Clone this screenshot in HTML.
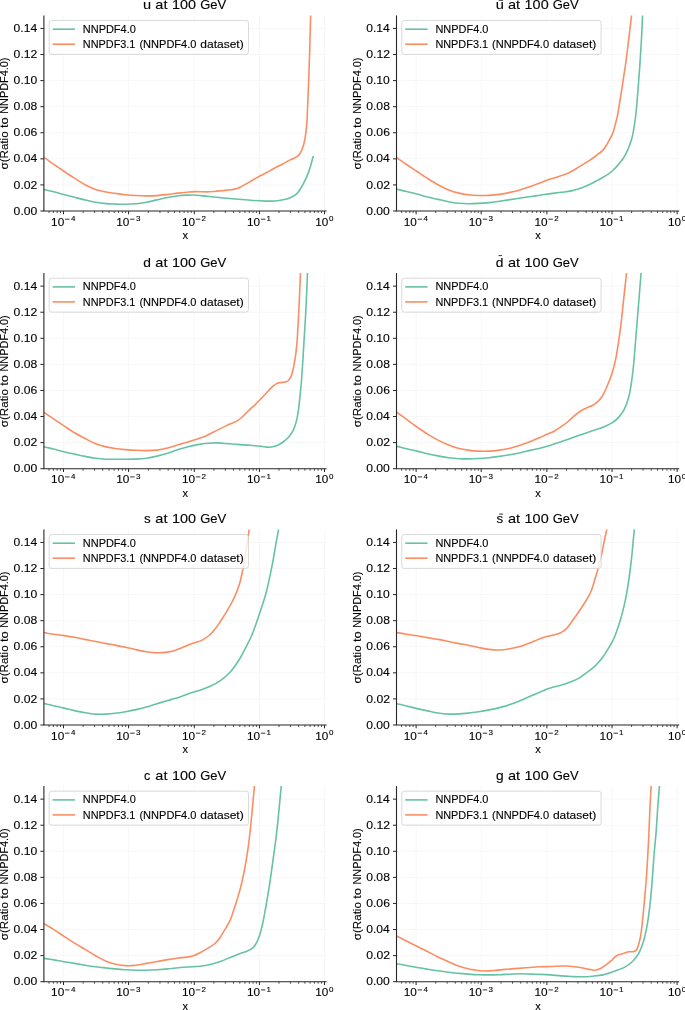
<!DOCTYPE html><html><head><meta charset="utf-8"><style>html,body{margin:0;padding:0;background:#fff;overflow:hidden}svg{display:block;will-change:transform;} text{stroke:#000;stroke-width:0.12px;paint-order:stroke} svg{font-family:"Liberation Sans",sans-serif;font-kerning:none}</style></head><body>
<svg width="685" height="1010" viewBox="0 0 685 1010">
<rect width="685" height="1010" fill="#fff"/>
<g transform="translate(0.00,0.00)">
<line x1="63.50" y1="15.40" x2="63.50" y2="211.00" stroke="#f7f7f7" stroke-width="1"/>
<line x1="128.60" y1="15.40" x2="128.60" y2="211.00" stroke="#f7f7f7" stroke-width="1"/>
<line x1="194.30" y1="15.40" x2="194.30" y2="211.00" stroke="#f7f7f7" stroke-width="1"/>
<line x1="259.40" y1="15.40" x2="259.40" y2="211.00" stroke="#f7f7f7" stroke-width="1"/>
<line x1="324.50" y1="15.40" x2="324.50" y2="211.00" stroke="#f7f7f7" stroke-width="1"/>
<line x1="43.90" y1="184.92" x2="326.60" y2="184.92" stroke="#f7f7f7" stroke-width="1"/>
<line x1="43.90" y1="158.84" x2="326.60" y2="158.84" stroke="#f7f7f7" stroke-width="1"/>
<line x1="43.90" y1="132.76" x2="326.60" y2="132.76" stroke="#f7f7f7" stroke-width="1"/>
<line x1="43.90" y1="106.68" x2="326.60" y2="106.68" stroke="#f7f7f7" stroke-width="1"/>
<line x1="43.90" y1="80.60" x2="326.60" y2="80.60" stroke="#f7f7f7" stroke-width="1"/>
<line x1="43.90" y1="54.52" x2="326.60" y2="54.52" stroke="#f7f7f7" stroke-width="1"/>
<line x1="43.90" y1="28.44" x2="326.60" y2="28.44" stroke="#f7f7f7" stroke-width="1"/>
</g>
<g transform="translate(352.60,0.00)">
<line x1="63.50" y1="15.40" x2="63.50" y2="211.00" stroke="#f7f7f7" stroke-width="1"/>
<line x1="128.60" y1="15.40" x2="128.60" y2="211.00" stroke="#f7f7f7" stroke-width="1"/>
<line x1="194.30" y1="15.40" x2="194.30" y2="211.00" stroke="#f7f7f7" stroke-width="1"/>
<line x1="259.40" y1="15.40" x2="259.40" y2="211.00" stroke="#f7f7f7" stroke-width="1"/>
<line x1="324.50" y1="15.40" x2="324.50" y2="211.00" stroke="#f7f7f7" stroke-width="1"/>
<line x1="43.90" y1="184.92" x2="326.60" y2="184.92" stroke="#f7f7f7" stroke-width="1"/>
<line x1="43.90" y1="158.84" x2="326.60" y2="158.84" stroke="#f7f7f7" stroke-width="1"/>
<line x1="43.90" y1="132.76" x2="326.60" y2="132.76" stroke="#f7f7f7" stroke-width="1"/>
<line x1="43.90" y1="106.68" x2="326.60" y2="106.68" stroke="#f7f7f7" stroke-width="1"/>
<line x1="43.90" y1="80.60" x2="326.60" y2="80.60" stroke="#f7f7f7" stroke-width="1"/>
<line x1="43.90" y1="54.52" x2="326.60" y2="54.52" stroke="#f7f7f7" stroke-width="1"/>
<line x1="43.90" y1="28.44" x2="326.60" y2="28.44" stroke="#f7f7f7" stroke-width="1"/>
</g>
<g transform="translate(0.00,257.70)">
<line x1="63.50" y1="15.40" x2="63.50" y2="211.00" stroke="#f7f7f7" stroke-width="1"/>
<line x1="128.60" y1="15.40" x2="128.60" y2="211.00" stroke="#f7f7f7" stroke-width="1"/>
<line x1="194.30" y1="15.40" x2="194.30" y2="211.00" stroke="#f7f7f7" stroke-width="1"/>
<line x1="259.40" y1="15.40" x2="259.40" y2="211.00" stroke="#f7f7f7" stroke-width="1"/>
<line x1="324.50" y1="15.40" x2="324.50" y2="211.00" stroke="#f7f7f7" stroke-width="1"/>
<line x1="43.90" y1="184.92" x2="326.60" y2="184.92" stroke="#f7f7f7" stroke-width="1"/>
<line x1="43.90" y1="158.84" x2="326.60" y2="158.84" stroke="#f7f7f7" stroke-width="1"/>
<line x1="43.90" y1="132.76" x2="326.60" y2="132.76" stroke="#f7f7f7" stroke-width="1"/>
<line x1="43.90" y1="106.68" x2="326.60" y2="106.68" stroke="#f7f7f7" stroke-width="1"/>
<line x1="43.90" y1="80.60" x2="326.60" y2="80.60" stroke="#f7f7f7" stroke-width="1"/>
<line x1="43.90" y1="54.52" x2="326.60" y2="54.52" stroke="#f7f7f7" stroke-width="1"/>
<line x1="43.90" y1="28.44" x2="326.60" y2="28.44" stroke="#f7f7f7" stroke-width="1"/>
</g>
<g transform="translate(352.60,257.70)">
<line x1="63.50" y1="15.40" x2="63.50" y2="211.00" stroke="#f7f7f7" stroke-width="1"/>
<line x1="128.60" y1="15.40" x2="128.60" y2="211.00" stroke="#f7f7f7" stroke-width="1"/>
<line x1="194.30" y1="15.40" x2="194.30" y2="211.00" stroke="#f7f7f7" stroke-width="1"/>
<line x1="259.40" y1="15.40" x2="259.40" y2="211.00" stroke="#f7f7f7" stroke-width="1"/>
<line x1="324.50" y1="15.40" x2="324.50" y2="211.00" stroke="#f7f7f7" stroke-width="1"/>
<line x1="43.90" y1="184.92" x2="326.60" y2="184.92" stroke="#f7f7f7" stroke-width="1"/>
<line x1="43.90" y1="158.84" x2="326.60" y2="158.84" stroke="#f7f7f7" stroke-width="1"/>
<line x1="43.90" y1="132.76" x2="326.60" y2="132.76" stroke="#f7f7f7" stroke-width="1"/>
<line x1="43.90" y1="106.68" x2="326.60" y2="106.68" stroke="#f7f7f7" stroke-width="1"/>
<line x1="43.90" y1="80.60" x2="326.60" y2="80.60" stroke="#f7f7f7" stroke-width="1"/>
<line x1="43.90" y1="54.52" x2="326.60" y2="54.52" stroke="#f7f7f7" stroke-width="1"/>
<line x1="43.90" y1="28.44" x2="326.60" y2="28.44" stroke="#f7f7f7" stroke-width="1"/>
</g>
<g transform="translate(0.00,514.00)">
<line x1="63.50" y1="15.40" x2="63.50" y2="211.00" stroke="#f7f7f7" stroke-width="1"/>
<line x1="128.60" y1="15.40" x2="128.60" y2="211.00" stroke="#f7f7f7" stroke-width="1"/>
<line x1="194.30" y1="15.40" x2="194.30" y2="211.00" stroke="#f7f7f7" stroke-width="1"/>
<line x1="259.40" y1="15.40" x2="259.40" y2="211.00" stroke="#f7f7f7" stroke-width="1"/>
<line x1="324.50" y1="15.40" x2="324.50" y2="211.00" stroke="#f7f7f7" stroke-width="1"/>
<line x1="43.90" y1="184.92" x2="326.60" y2="184.92" stroke="#f7f7f7" stroke-width="1"/>
<line x1="43.90" y1="158.84" x2="326.60" y2="158.84" stroke="#f7f7f7" stroke-width="1"/>
<line x1="43.90" y1="132.76" x2="326.60" y2="132.76" stroke="#f7f7f7" stroke-width="1"/>
<line x1="43.90" y1="106.68" x2="326.60" y2="106.68" stroke="#f7f7f7" stroke-width="1"/>
<line x1="43.90" y1="80.60" x2="326.60" y2="80.60" stroke="#f7f7f7" stroke-width="1"/>
<line x1="43.90" y1="54.52" x2="326.60" y2="54.52" stroke="#f7f7f7" stroke-width="1"/>
<line x1="43.90" y1="28.44" x2="326.60" y2="28.44" stroke="#f7f7f7" stroke-width="1"/>
</g>
<g transform="translate(352.60,514.00)">
<line x1="63.50" y1="15.40" x2="63.50" y2="211.00" stroke="#f7f7f7" stroke-width="1"/>
<line x1="128.60" y1="15.40" x2="128.60" y2="211.00" stroke="#f7f7f7" stroke-width="1"/>
<line x1="194.30" y1="15.40" x2="194.30" y2="211.00" stroke="#f7f7f7" stroke-width="1"/>
<line x1="259.40" y1="15.40" x2="259.40" y2="211.00" stroke="#f7f7f7" stroke-width="1"/>
<line x1="324.50" y1="15.40" x2="324.50" y2="211.00" stroke="#f7f7f7" stroke-width="1"/>
<line x1="43.90" y1="184.92" x2="326.60" y2="184.92" stroke="#f7f7f7" stroke-width="1"/>
<line x1="43.90" y1="158.84" x2="326.60" y2="158.84" stroke="#f7f7f7" stroke-width="1"/>
<line x1="43.90" y1="132.76" x2="326.60" y2="132.76" stroke="#f7f7f7" stroke-width="1"/>
<line x1="43.90" y1="106.68" x2="326.60" y2="106.68" stroke="#f7f7f7" stroke-width="1"/>
<line x1="43.90" y1="80.60" x2="326.60" y2="80.60" stroke="#f7f7f7" stroke-width="1"/>
<line x1="43.90" y1="54.52" x2="326.60" y2="54.52" stroke="#f7f7f7" stroke-width="1"/>
<line x1="43.90" y1="28.44" x2="326.60" y2="28.44" stroke="#f7f7f7" stroke-width="1"/>
</g>
<g transform="translate(0.00,770.70)">
<line x1="63.50" y1="15.40" x2="63.50" y2="211.00" stroke="#f7f7f7" stroke-width="1"/>
<line x1="128.60" y1="15.40" x2="128.60" y2="211.00" stroke="#f7f7f7" stroke-width="1"/>
<line x1="194.30" y1="15.40" x2="194.30" y2="211.00" stroke="#f7f7f7" stroke-width="1"/>
<line x1="259.40" y1="15.40" x2="259.40" y2="211.00" stroke="#f7f7f7" stroke-width="1"/>
<line x1="324.50" y1="15.40" x2="324.50" y2="211.00" stroke="#f7f7f7" stroke-width="1"/>
<line x1="43.90" y1="184.92" x2="326.60" y2="184.92" stroke="#f7f7f7" stroke-width="1"/>
<line x1="43.90" y1="158.84" x2="326.60" y2="158.84" stroke="#f7f7f7" stroke-width="1"/>
<line x1="43.90" y1="132.76" x2="326.60" y2="132.76" stroke="#f7f7f7" stroke-width="1"/>
<line x1="43.90" y1="106.68" x2="326.60" y2="106.68" stroke="#f7f7f7" stroke-width="1"/>
<line x1="43.90" y1="80.60" x2="326.60" y2="80.60" stroke="#f7f7f7" stroke-width="1"/>
<line x1="43.90" y1="54.52" x2="326.60" y2="54.52" stroke="#f7f7f7" stroke-width="1"/>
<line x1="43.90" y1="28.44" x2="326.60" y2="28.44" stroke="#f7f7f7" stroke-width="1"/>
</g>
<g transform="translate(352.60,770.70)">
<line x1="63.50" y1="15.40" x2="63.50" y2="211.00" stroke="#f7f7f7" stroke-width="1"/>
<line x1="128.60" y1="15.40" x2="128.60" y2="211.00" stroke="#f7f7f7" stroke-width="1"/>
<line x1="194.30" y1="15.40" x2="194.30" y2="211.00" stroke="#f7f7f7" stroke-width="1"/>
<line x1="259.40" y1="15.40" x2="259.40" y2="211.00" stroke="#f7f7f7" stroke-width="1"/>
<line x1="324.50" y1="15.40" x2="324.50" y2="211.00" stroke="#f7f7f7" stroke-width="1"/>
<line x1="43.90" y1="184.92" x2="326.60" y2="184.92" stroke="#f7f7f7" stroke-width="1"/>
<line x1="43.90" y1="158.84" x2="326.60" y2="158.84" stroke="#f7f7f7" stroke-width="1"/>
<line x1="43.90" y1="132.76" x2="326.60" y2="132.76" stroke="#f7f7f7" stroke-width="1"/>
<line x1="43.90" y1="106.68" x2="326.60" y2="106.68" stroke="#f7f7f7" stroke-width="1"/>
<line x1="43.90" y1="80.60" x2="326.60" y2="80.60" stroke="#f7f7f7" stroke-width="1"/>
<line x1="43.90" y1="54.52" x2="326.60" y2="54.52" stroke="#f7f7f7" stroke-width="1"/>
<line x1="43.90" y1="28.44" x2="326.60" y2="28.44" stroke="#f7f7f7" stroke-width="1"/>
</g>
<clipPath id="clip00"><rect x="43.90" y="15.40" width="282.70" height="195.60"/></clipPath>
<g clip-path="url(#clip00)" fill="none" stroke-width="1.6" stroke-linejoin="round" stroke-linecap="butt">
<path d="M43.90,189.60 C44.02,189.62 44.24,189.63 44.60,189.70 C45.90,189.95 50.45,191.03 53.50,191.80 C56.74,192.62 60.08,193.60 63.50,194.50 C67.08,195.44 70.87,196.39 74.50,197.30 C78.04,198.19 81.49,199.08 85.00,199.90 C88.52,200.72 92.06,201.58 95.60,202.20 C99.10,202.81 102.74,203.28 106.10,203.60 C109.18,203.89 111.91,203.98 115.00,204.10 C118.35,204.23 122.00,204.35 125.50,204.30 C129.00,204.25 132.51,204.15 136.00,203.80 C139.51,203.45 143.01,202.85 146.50,202.20 C150.01,201.55 153.49,200.68 157.00,199.90 C160.53,199.11 164.07,198.20 167.60,197.50 C171.10,196.80 174.73,196.10 178.10,195.70 C181.18,195.33 184.30,195.21 187.00,195.10 C189.25,195.01 191.02,194.93 193.20,195.00 C195.65,195.07 198.37,195.35 201.00,195.60 C203.70,195.85 206.07,196.17 209.20,196.50 C213.37,196.94 218.93,197.53 223.80,198.00 C228.67,198.47 233.53,198.88 238.40,199.30 C243.27,199.72 248.34,200.19 253.00,200.50 C257.27,200.78 261.46,201.03 265.30,201.10 C268.67,201.16 271.75,201.24 274.80,201.00 C277.67,200.78 280.51,200.36 283.10,199.80 C285.44,199.30 287.66,198.71 289.70,197.90 C291.60,197.15 293.51,196.28 295.00,195.20 C296.32,194.24 297.32,193.10 298.30,191.90 C299.28,190.70 300.06,189.37 300.90,188.00 C301.79,186.55 302.66,185.00 303.50,183.40 C304.39,181.71 305.25,179.97 306.10,178.10 C307.02,176.06 308.06,173.59 308.80,171.60 C309.41,169.95 309.81,168.67 310.30,167.00 C310.88,165.05 311.44,162.54 312.00,160.60 C312.47,158.96 313.17,156.85 313.40,156.10" stroke="#66c2a5"/>
<path d="M43.90,157.60 C44.02,157.65 44.25,157.70 44.60,157.90 C45.92,158.64 50.44,162.07 53.50,164.20 C56.73,166.44 60.08,168.72 63.50,171.00 C67.07,173.38 70.86,175.88 74.50,178.20 C78.03,180.45 81.43,182.81 85.00,184.70 C88.46,186.53 92.02,188.17 95.60,189.40 C99.06,190.58 102.73,191.34 106.10,192.00 C109.17,192.60 111.91,192.87 115.00,193.30 C118.35,193.77 121.99,194.33 125.50,194.70 C128.99,195.07 132.50,195.30 136.00,195.50 C139.50,195.70 143.00,195.88 146.50,195.90 C150.00,195.92 153.50,195.83 157.00,195.60 C160.53,195.37 164.08,194.92 167.60,194.50 C171.11,194.08 174.74,193.49 178.10,193.10 C181.19,192.74 184.15,192.46 187.00,192.20 C189.63,191.96 191.65,191.70 194.60,191.60 C198.68,191.47 204.34,191.98 209.20,191.80 C214.07,191.62 219.77,190.90 223.80,190.50 C226.65,190.22 228.98,190.01 231.10,189.70 C232.76,189.46 234.18,189.22 235.50,188.90 C236.60,188.64 237.53,188.38 238.50,188.00 C239.47,187.62 240.12,187.23 241.30,186.60 C243.43,185.47 247.06,183.33 250.10,181.60 C253.37,179.74 256.91,177.65 260.30,175.80 C263.61,173.99 267.27,172.19 270.20,170.60 C272.58,169.31 274.45,168.15 276.60,167.00 C278.75,165.85 280.93,164.84 283.10,163.70 C285.30,162.54 287.75,161.04 289.70,160.10 C291.18,159.38 292.40,159.06 293.70,158.40 C295.03,157.73 296.49,157.01 297.60,156.10 C298.63,155.26 299.46,154.32 300.20,153.20 C301.02,151.96 301.60,150.37 302.20,148.90 C302.80,147.41 303.36,145.85 303.80,144.30 C304.23,142.78 304.49,141.38 304.80,139.70 C305.17,137.70 305.52,135.29 305.80,133.10 C306.08,130.93 306.29,128.85 306.50,126.60 C306.73,124.17 306.93,121.84 307.10,119.00 C307.32,115.37 307.40,111.62 307.60,106.60 C307.91,98.83 308.43,86.81 308.80,76.90 C309.17,66.98 309.50,57.20 309.80,47.10 C310.11,36.65 310.39,22.88 310.60,15.20 C310.72,10.86 310.85,6.70 310.90,5.00" stroke="#fc8d62"/>
</g>
<clipPath id="clip10"><rect x="396.50" y="15.40" width="282.70" height="195.60"/></clipPath>
<g clip-path="url(#clip10)" fill="none" stroke-width="1.6" stroke-linejoin="round" stroke-linecap="butt">
<path d="M396.50,189.30 C396.60,189.32 396.78,189.34 397.10,189.40 C398.37,189.65 403.28,190.74 406.50,191.50 C409.91,192.30 413.51,193.19 417.00,194.10 C420.51,195.02 423.99,196.11 427.50,197.00 C430.99,197.88 434.49,198.62 438.00,199.40 C441.52,200.18 445.06,201.06 448.60,201.70 C452.10,202.33 455.74,202.87 459.10,203.20 C462.18,203.51 464.91,203.66 468.00,203.70 C471.35,203.75 475.00,203.58 478.50,203.40 C482.00,203.22 485.51,202.97 489.00,202.60 C492.51,202.23 496.00,201.70 499.50,201.20 C503.00,200.70 506.49,200.13 510.00,199.60 C513.52,199.07 517.07,198.52 520.60,198.00 C524.11,197.48 527.74,196.98 531.10,196.50 C534.19,196.05 536.91,195.66 540.00,195.20 C543.36,194.70 547.00,194.08 550.50,193.60 C554.00,193.12 557.50,192.75 561.00,192.30 C564.50,191.85 568.03,191.64 571.50,190.90 C575.03,190.15 578.77,188.98 582.00,187.80 C584.88,186.75 587.37,185.57 590.00,184.30 C592.67,183.01 595.27,181.53 597.90,180.10 C600.54,178.66 603.35,177.27 605.80,175.70 C608.10,174.23 610.21,172.72 612.20,171.00 C614.18,169.29 615.91,167.43 617.70,165.40 C619.62,163.22 621.69,160.74 623.30,158.30 C624.83,155.99 626.07,153.60 627.20,151.20 C628.30,148.87 629.16,146.48 630.00,144.10 C630.83,141.75 631.53,139.72 632.20,137.00 C633.08,133.44 633.84,128.76 634.50,124.50 C635.18,120.10 635.68,115.96 636.20,111.00 C636.84,104.95 637.34,97.67 637.90,90.80 C638.48,83.65 639.07,76.46 639.60,68.90 C640.17,60.80 640.71,52.37 641.20,43.70 C641.72,34.47 642.21,22.21 642.60,15.10 C642.83,10.88 643.10,6.68 643.20,5.00" stroke="#66c2a5"/>
<path d="M396.50,157.50 C396.60,157.57 396.78,157.68 397.10,157.90 C398.37,158.77 403.27,162.29 406.50,164.50 C409.89,166.82 413.50,169.18 417.00,171.50 C420.50,173.81 423.98,176.19 427.50,178.40 C430.98,180.58 434.45,182.77 438.00,184.70 C441.49,186.60 445.02,188.49 448.60,189.90 C452.05,191.26 455.72,192.28 459.10,193.10 C462.17,193.84 464.90,194.30 468.00,194.70 C471.35,195.13 475.00,195.38 478.50,195.50 C482.00,195.62 485.50,195.58 489.00,195.40 C492.50,195.22 496.01,194.90 499.50,194.40 C503.01,193.90 506.50,193.18 510.00,192.40 C513.54,191.61 517.09,190.71 520.60,189.70 C524.12,188.68 527.76,187.48 531.10,186.30 C534.20,185.21 536.91,184.05 540.00,182.90 C543.35,181.65 546.99,180.30 550.50,179.10 C553.99,177.90 557.95,176.70 561.00,175.70 C563.37,174.92 565.04,174.60 567.30,173.60 C570.20,172.32 573.87,170.01 576.80,168.30 C579.38,166.79 581.71,165.32 584.00,163.90 C586.10,162.60 588.00,161.46 590.00,160.10 C592.10,158.67 594.21,157.10 596.30,155.50 C598.44,153.87 600.93,152.27 602.70,150.40 C604.30,148.70 605.34,146.89 606.60,144.90 C607.99,142.70 609.43,140.05 610.60,137.70 C611.67,135.55 612.62,133.59 613.40,131.40 C614.20,129.13 614.67,126.74 615.30,124.30 C615.97,121.72 616.72,119.00 617.30,116.30 C617.89,113.57 618.27,111.12 618.80,108.00 C619.48,103.98 620.24,99.03 621.00,94.20 C621.84,88.85 622.75,82.93 623.60,77.30 C624.45,71.69 625.30,66.36 626.10,60.50 C626.97,54.08 627.74,47.41 628.60,40.30 C629.56,32.37 630.83,21.61 631.60,15.10 C632.09,10.98 632.60,6.68 632.80,5.00" stroke="#fc8d62"/>
</g>
<clipPath id="clip01"><rect x="43.90" y="273.10" width="282.70" height="195.60"/></clipPath>
<g clip-path="url(#clip01)" fill="none" stroke-width="1.6" stroke-linejoin="round" stroke-linecap="butt">
<path d="M43.90,446.60 C43.93,446.62 43.98,446.66 44.10,446.70 C44.89,446.99 50.28,448.19 53.50,449.00 C56.91,449.85 60.49,450.85 64.00,451.70 C67.49,452.55 71.00,453.32 74.50,454.10 C78.00,454.88 81.48,455.70 85.00,456.40 C88.52,457.10 92.06,457.83 95.60,458.30 C99.10,458.76 102.74,459.04 106.10,459.20 C109.19,459.35 111.91,459.28 115.00,459.30 C118.36,459.32 122.00,459.33 125.50,459.30 C129.00,459.27 132.50,459.28 136.00,459.10 C139.50,458.92 143.01,458.70 146.50,458.20 C150.01,457.70 153.51,456.93 157.00,456.10 C160.54,455.26 164.09,454.28 167.60,453.20 C171.13,452.11 174.73,450.67 178.10,449.60 C181.18,448.62 183.90,447.81 187.00,447.00 C190.34,446.13 193.99,445.23 197.50,444.60 C200.99,443.97 204.49,443.48 208.00,443.20 C211.49,442.92 215.00,442.80 218.50,442.90 C222.00,443.00 225.49,443.52 229.00,443.80 C232.52,444.08 236.07,444.35 239.60,444.60 C243.11,444.85 247.26,445.06 250.10,445.30 C252.04,445.46 253.25,445.64 255.00,445.80 C257.01,445.98 259.26,446.08 261.50,446.30 C263.91,446.54 266.50,447.28 269.00,447.20 C271.53,447.12 274.24,446.68 276.60,445.80 C278.93,444.93 281.10,443.45 283.10,442.00 C285.06,440.58 286.89,438.99 288.50,437.20 C290.13,435.39 291.59,433.47 292.80,431.20 C294.15,428.67 295.12,425.67 296.00,422.60 C296.96,419.24 297.59,415.65 298.20,411.80 C298.89,407.45 299.33,402.17 299.80,397.80 C300.21,393.97 300.55,390.77 300.90,387.00 C301.29,382.87 301.62,379.27 302.00,374.00 C302.59,365.86 303.29,352.80 303.90,342.90 C304.46,333.85 305.05,325.07 305.50,316.90 C305.90,309.61 306.18,303.31 306.50,296.20 C306.84,288.64 307.22,279.11 307.50,272.80 C307.69,268.51 307.92,263.80 308.00,262.00" stroke="#66c2a5"/>
<path d="M43.90,412.10 C43.93,412.13 43.98,412.20 44.10,412.30 C44.89,412.96 50.27,416.59 53.50,418.80 C56.90,421.12 60.49,423.56 64.00,425.90 C67.49,428.23 70.95,430.68 74.50,432.80 C77.96,434.87 81.48,436.66 85.00,438.50 C88.51,440.33 92.01,442.39 95.60,443.80 C99.05,445.16 102.72,446.10 106.10,446.90 C109.17,447.63 111.90,448.06 115.00,448.50 C118.35,448.98 122.00,449.30 125.50,449.60 C129.00,449.90 132.50,450.13 136.00,450.30 C139.50,450.47 143.00,450.63 146.50,450.60 C150.00,450.57 153.51,450.53 157.00,450.10 C160.54,449.67 164.10,448.88 167.60,448.00 C171.13,447.11 174.74,445.80 178.10,444.80 C181.19,443.88 183.91,443.12 187.00,442.20 C190.36,441.20 194.21,440.11 197.50,439.00 C200.47,438.00 202.98,437.17 205.90,435.90 C209.24,434.44 212.90,432.35 216.40,430.60 C219.90,428.85 223.38,427.07 226.90,425.40 C230.41,423.74 234.83,422.17 237.50,420.60 C239.29,419.55 240.12,418.86 241.70,417.50 C244.09,415.45 247.64,411.40 250.10,409.10 C251.92,407.39 253.28,406.41 255.00,404.80 C257.04,402.89 259.35,400.53 261.50,398.30 C263.69,396.03 265.93,393.47 268.00,391.30 C269.84,389.37 271.42,387.37 273.30,385.90 C275.01,384.56 276.74,383.34 278.70,382.70 C280.70,382.05 283.43,382.59 285.20,382.10 C286.52,381.73 287.57,381.35 288.50,380.50 C289.59,379.50 290.39,377.76 291.10,376.20 C291.85,374.54 292.31,372.70 292.80,370.80 C293.33,368.75 293.67,366.64 294.10,364.30 C294.60,361.57 295.15,358.74 295.60,355.40 C296.18,351.14 296.66,346.27 297.10,340.80 C297.66,333.82 298.09,324.58 298.50,316.90 C298.88,309.75 299.18,303.31 299.50,296.20 C299.84,288.64 300.22,279.11 300.50,272.80 C300.69,268.51 300.92,263.80 301.00,262.00" stroke="#fc8d62"/>
</g>
<clipPath id="clip11"><rect x="396.50" y="273.10" width="282.70" height="195.60"/></clipPath>
<g clip-path="url(#clip11)" fill="none" stroke-width="1.6" stroke-linejoin="round" stroke-linecap="butt">
<path d="M396.50,446.30 C396.60,446.32 396.78,446.33 397.10,446.40 C398.37,446.66 403.28,447.94 406.50,448.70 C409.90,449.50 413.51,450.25 417.00,451.10 C420.51,451.95 423.99,453.00 427.50,453.80 C430.99,454.60 434.49,455.25 438.00,455.90 C441.52,456.55 445.07,457.23 448.60,457.70 C452.10,458.16 455.74,458.50 459.10,458.70 C462.19,458.88 464.91,458.92 468.00,458.90 C471.36,458.87 475.00,458.70 478.50,458.50 C482.00,458.30 485.50,458.05 489.00,457.70 C492.50,457.35 496.00,456.88 499.50,456.40 C503.00,455.92 506.50,455.41 510.00,454.80 C513.53,454.18 517.08,453.48 520.60,452.70 C524.12,451.92 527.74,450.87 531.10,450.10 C534.18,449.39 536.90,448.96 540.00,448.20 C543.44,447.36 547.22,446.31 550.80,445.20 C554.42,444.08 558.00,442.75 561.60,441.50 C565.20,440.25 568.80,438.97 572.40,437.70 C576.00,436.43 579.59,435.13 583.20,433.90 C586.79,432.67 590.50,431.48 594.00,430.30 C597.32,429.18 600.61,428.29 603.70,427.00 C606.70,425.75 609.68,424.45 612.30,422.70 C614.87,420.98 617.27,418.91 619.30,416.60 C621.34,414.28 623.00,411.79 624.50,408.80 C626.25,405.30 627.66,400.92 628.80,396.70 C629.99,392.27 630.65,387.70 631.40,382.80 C632.24,377.36 632.87,371.65 633.50,365.50 C634.22,358.50 634.79,350.35 635.40,343.00 C635.99,335.93 636.51,329.52 637.10,322.20 C637.76,314.02 638.52,304.64 639.20,296.20 C639.85,288.19 640.58,279.11 641.10,272.80 C641.45,268.51 641.85,263.80 642.00,262.00" stroke="#66c2a5"/>
<path d="M396.50,412.10 C396.60,412.17 396.78,412.28 397.10,412.50 C398.37,413.39 403.28,417.05 406.50,419.40 C409.90,421.88 413.48,424.54 417.00,427.00 C420.48,429.44 423.96,431.89 427.50,434.10 C430.96,436.25 434.45,438.27 438.00,440.10 C441.49,441.90 445.04,443.59 448.60,445.00 C452.07,446.38 455.71,447.64 459.10,448.50 C462.16,449.28 464.90,449.67 468.00,450.10 C471.35,450.56 475.00,450.93 478.50,451.10 C482.00,451.27 485.50,451.27 489.00,451.10 C492.50,450.93 496.01,450.58 499.50,450.10 C503.01,449.62 506.52,449.04 510.00,448.20 C513.55,447.35 517.09,446.16 520.60,445.00 C524.12,443.83 527.76,442.48 531.10,441.20 C534.20,440.01 537.28,438.80 540.00,437.60 C542.35,436.56 544.25,435.53 546.50,434.50 C548.90,433.40 551.54,432.51 554.00,431.20 C556.58,429.83 559.20,428.06 561.60,426.40 C563.89,424.82 565.98,423.27 568.10,421.50 C570.29,419.67 572.31,417.43 574.50,415.60 C576.62,413.83 578.77,412.07 581.00,410.70 C583.11,409.40 585.42,408.44 587.50,407.50 C589.37,406.66 591.26,406.23 592.90,405.30 C594.48,404.41 595.80,403.39 597.20,402.10 C598.81,400.60 600.42,398.90 601.90,396.70 C603.78,393.89 605.46,390.06 607.10,386.30 C608.95,382.07 610.84,377.15 612.30,372.50 C613.74,367.92 614.80,363.39 615.80,358.60 C616.85,353.57 617.57,348.47 618.40,343.00 C619.31,336.96 620.18,330.65 621.00,323.90 C621.92,316.32 622.69,307.98 623.60,299.70 C624.56,290.97 625.83,279.76 626.60,272.80 C627.09,268.39 627.60,263.80 627.80,262.00" stroke="#fc8d62"/>
</g>
<clipPath id="clip02"><rect x="43.90" y="529.40" width="282.70" height="195.60"/></clipPath>
<g clip-path="url(#clip02)" fill="none" stroke-width="1.6" stroke-linejoin="round" stroke-linecap="butt">
<path d="M43.90,703.50 C43.93,703.52 43.98,703.56 44.10,703.60 C44.89,703.88 50.28,704.97 53.50,705.70 C56.90,706.47 60.50,707.28 64.00,708.10 C67.50,708.92 70.99,709.83 74.50,710.60 C77.99,711.36 81.48,712.12 85.00,712.70 C88.52,713.28 92.07,713.87 95.60,714.10 C99.10,714.33 102.75,714.25 106.10,714.10 C109.19,713.96 111.92,713.67 115.00,713.30 C118.36,712.89 122.01,712.32 125.50,711.70 C129.01,711.08 132.51,710.40 136.00,709.60 C139.51,708.80 143.01,707.88 146.50,706.90 C150.01,705.91 153.49,704.75 157.00,703.70 C160.52,702.65 164.43,701.52 167.60,700.60 C170.17,699.86 171.86,699.46 174.60,698.60 C178.60,697.35 184.69,695.08 189.20,693.60 C193.06,692.33 196.47,691.45 200.00,690.20 C203.47,688.98 206.85,687.77 210.20,686.20 C213.65,684.58 217.12,682.91 220.40,680.60 C223.97,678.09 227.64,674.88 230.70,671.50 C233.77,668.11 236.38,664.12 238.80,660.30 C241.13,656.61 242.98,652.86 245.00,649.00 C247.08,645.03 249.25,641.00 251.10,636.80 C252.99,632.51 254.64,627.86 256.20,623.50 C257.69,619.34 259.09,614.84 260.30,611.20 C261.26,608.31 262.05,606.05 262.90,603.40 C263.78,600.66 264.58,598.37 265.50,595.00 C266.86,590.02 268.58,582.41 269.90,576.30 C271.16,570.48 272.27,564.81 273.30,559.20 C274.29,553.79 275.10,548.31 276.00,543.20 C276.83,538.48 277.86,533.75 278.50,529.60 C279.04,526.13 279.50,521.60 279.70,520.00" stroke="#66c2a5"/>
<path d="M43.90,632.30 C43.93,632.32 43.98,632.36 44.10,632.40 C44.89,632.67 50.27,633.68 53.50,634.20 C56.90,634.75 60.50,635.08 64.00,635.60 C67.50,636.12 71.01,636.67 74.50,637.30 C78.01,637.93 81.49,638.70 85.00,639.40 C88.52,640.10 92.08,640.80 95.60,641.50 C99.11,642.20 102.74,642.98 106.10,643.60 C109.18,644.17 111.92,644.52 115.00,645.10 C118.36,645.74 122.00,646.53 125.50,647.30 C129.00,648.07 132.49,648.97 136.00,649.70 C139.49,650.43 142.99,651.18 146.50,651.70 C149.99,652.21 153.49,652.73 157.00,652.80 C160.52,652.87 164.52,652.51 167.60,652.10 C170.01,651.78 171.78,651.45 174.00,650.80 C176.53,650.05 179.10,648.81 181.90,647.70 C185.09,646.43 188.68,644.87 192.10,643.60 C195.48,642.34 199.28,641.64 202.30,640.10 C205.05,638.70 207.39,636.94 209.60,635.00 C211.79,633.07 213.64,630.85 215.50,628.50 C217.45,626.03 219.10,623.40 221.00,620.50 C223.18,617.17 225.61,613.40 227.80,609.60 C230.11,605.59 232.55,601.27 234.50,597.00 C236.40,592.83 238.00,588.92 239.40,584.30 C241.00,579.01 242.17,572.72 243.30,566.90 C244.43,561.09 245.26,555.39 246.20,549.40 C247.19,543.10 248.32,535.41 249.10,530.00 C249.66,526.12 250.27,521.67 250.50,520.00" stroke="#fc8d62"/>
</g>
<clipPath id="clip12"><rect x="396.50" y="529.40" width="282.70" height="195.60"/></clipPath>
<g clip-path="url(#clip12)" fill="none" stroke-width="1.6" stroke-linejoin="round" stroke-linecap="butt">
<path d="M396.50,703.70 C396.60,703.72 396.78,703.74 397.10,703.80 C398.37,704.05 403.28,705.23 406.50,706.00 C409.91,706.82 413.49,707.78 417.00,708.60 C420.49,709.42 424.00,710.17 427.50,710.90 C431.00,711.63 434.48,712.47 438.00,713.00 C441.51,713.53 445.07,713.95 448.60,714.10 C452.10,714.25 455.75,714.08 459.10,713.90 C462.19,713.73 464.91,713.44 468.00,713.10 C471.36,712.73 475.00,712.23 478.50,711.70 C482.00,711.17 485.51,710.58 489.00,709.90 C492.51,709.22 496.01,708.48 499.50,707.60 C503.01,706.71 506.52,705.77 510.00,704.60 C513.55,703.41 517.19,701.92 520.60,700.50 C523.85,699.15 526.80,697.71 530.00,696.30 C533.33,694.84 536.79,693.29 540.20,691.90 C543.59,690.52 546.96,689.10 550.40,688.00 C553.80,686.91 557.30,686.34 560.70,685.30 C564.13,684.25 567.72,682.97 570.90,681.70 C573.78,680.55 576.56,679.48 579.00,678.10 C581.22,676.85 583.16,675.21 585.00,673.90 C586.59,672.77 587.95,671.81 589.40,670.70 C590.88,669.57 592.38,668.48 593.80,667.20 C595.28,665.86 596.69,664.37 598.10,662.80 C599.59,661.14 601.16,659.29 602.50,657.50 C603.78,655.79 604.85,654.09 606.00,652.30 C607.19,650.46 608.35,648.56 609.50,646.60 C610.69,644.57 611.89,642.60 613.00,640.30 C614.27,637.67 615.43,634.81 616.60,631.60 C618.00,627.77 619.47,623.03 620.70,618.80 C621.89,614.70 622.95,610.60 623.90,606.60 C624.81,602.77 625.57,599.12 626.30,595.30 C627.04,591.39 627.71,587.27 628.30,583.40 C628.87,579.72 629.31,576.29 629.80,572.60 C630.31,568.73 630.84,564.75 631.30,560.70 C631.78,556.49 632.20,551.92 632.60,547.80 C632.96,544.01 633.29,540.18 633.60,536.90 C633.85,534.20 634.08,532.12 634.30,529.50 C634.55,526.53 634.88,521.58 635.00,520.00" stroke="#66c2a5"/>
<path d="M396.50,632.50 C396.60,632.52 396.78,632.55 397.10,632.60 C398.36,632.81 403.28,633.68 406.50,634.20 C409.90,634.75 413.50,635.23 417.00,635.80 C420.50,636.37 424.00,637.00 427.50,637.60 C431.00,638.20 434.50,638.75 438.00,639.40 C441.53,640.05 445.08,640.80 448.60,641.50 C452.11,642.20 455.74,642.96 459.10,643.60 C462.19,644.19 464.92,644.59 468.00,645.20 C471.36,645.87 474.99,646.80 478.50,647.50 C481.99,648.20 485.49,648.98 489.00,649.40 C492.49,649.81 496.01,650.12 499.50,650.00 C503.01,649.88 506.51,649.31 510.00,648.70 C513.54,648.08 517.41,647.24 520.60,646.30 C523.32,645.50 525.57,644.53 528.00,643.60 C530.37,642.69 532.53,641.78 535.00,640.80 C537.77,639.70 540.84,638.22 543.80,637.30 C546.67,636.40 549.77,636.00 552.50,635.30 C554.97,634.66 557.30,634.28 559.50,633.30 C561.70,632.32 563.93,630.96 565.70,629.40 C567.40,627.90 568.59,626.04 570.00,624.20 C571.49,622.25 572.82,620.24 574.40,618.00 C576.27,615.35 578.57,612.19 580.50,609.30 C582.36,606.52 584.14,603.76 585.80,601.00 C587.40,598.33 589.04,595.74 590.30,593.00 C591.53,590.33 592.40,587.56 593.30,584.80 C594.20,582.06 594.92,579.14 595.70,576.50 C596.41,574.09 597.15,571.91 597.80,569.60 C598.45,567.31 599.00,565.12 599.60,562.70 C600.26,560.04 600.98,557.15 601.60,554.30 C602.24,551.36 602.81,548.24 603.40,545.30 C603.97,542.48 604.52,539.70 605.10,537.00 C605.66,534.41 606.22,532.07 606.80,529.40 C607.45,526.43 608.47,521.57 608.80,520.00" stroke="#fc8d62"/>
</g>
<clipPath id="clip03"><rect x="43.90" y="786.10" width="282.70" height="195.60"/></clipPath>
<g clip-path="url(#clip03)" fill="none" stroke-width="1.6" stroke-linejoin="round" stroke-linecap="butt">
<path d="M43.90,958.20 C43.93,958.22 43.98,958.26 44.10,958.30 C44.89,958.56 50.28,959.35 53.50,959.90 C56.90,960.48 60.50,961.12 64.00,961.70 C67.50,962.28 71.00,962.82 74.50,963.40 C78.00,963.98 81.49,964.63 85.00,965.20 C88.52,965.77 92.07,966.33 95.60,966.80 C99.10,967.26 102.74,967.64 106.10,968.00 C109.19,968.33 111.91,968.63 115.00,968.90 C118.35,969.20 122.00,969.48 125.50,969.70 C129.00,969.92 132.50,970.12 136.00,970.20 C139.50,970.28 143.00,970.28 146.50,970.20 C150.00,970.12 153.49,969.92 157.00,969.70 C160.53,969.48 164.08,969.22 167.60,968.90 C171.11,968.58 174.74,968.13 178.10,967.80 C181.19,967.50 183.75,967.25 187.00,967.00 C190.92,966.70 195.94,966.66 200.00,966.20 C203.62,965.79 206.83,965.29 210.20,964.50 C213.63,963.70 217.02,962.59 220.40,961.40 C223.85,960.19 227.28,958.67 230.70,957.30 C234.11,955.94 237.80,954.37 240.90,953.20 C243.47,952.23 245.88,951.71 248.00,950.70 C249.89,949.80 251.66,948.94 253.10,947.60 C254.57,946.23 255.68,944.34 256.70,942.50 C257.76,940.59 258.55,938.46 259.30,936.30 C260.09,934.04 260.66,931.73 261.30,929.20 C262.03,926.34 262.69,923.47 263.40,920.00 C264.32,915.53 265.24,910.08 266.20,904.60 C267.30,898.33 268.52,891.40 269.60,884.40 C270.76,876.85 271.80,868.80 272.90,860.80 C274.03,852.54 275.30,843.87 276.30,835.60 C277.26,827.61 277.99,820.07 278.80,812.00 C279.66,803.52 280.58,792.53 281.30,785.90 C281.74,781.81 282.30,777.65 282.50,776.00" stroke="#66c2a5"/>
<path d="M43.90,923.60 C43.93,923.62 43.99,923.64 44.10,923.70 C44.90,924.14 50.30,927.38 53.50,929.40 C56.92,931.56 60.50,934.01 64.00,936.30 C67.50,938.58 70.98,940.91 74.50,943.10 C77.98,945.27 81.49,947.30 85.00,949.40 C88.52,951.50 92.05,953.72 95.60,955.70 C99.08,957.65 102.68,959.78 106.10,961.20 C109.13,962.46 112.27,963.31 115.00,964.00 C117.26,964.57 119.11,964.92 121.30,965.20 C123.66,965.50 126.24,965.70 128.70,965.70 C131.14,965.70 133.35,965.52 136.00,965.20 C139.19,964.82 143.00,964.02 146.50,963.40 C150.00,962.78 153.49,962.13 157.00,961.50 C160.52,960.87 164.07,960.19 167.60,959.60 C171.10,959.02 174.74,958.43 178.10,958.00 C181.18,957.61 184.30,957.53 187.00,957.10 C189.29,956.73 191.20,956.39 193.30,955.70 C195.54,954.96 197.75,953.84 200.00,952.70 C202.39,951.49 204.83,950.04 207.20,948.60 C209.60,947.14 212.23,945.76 214.30,944.00 C216.26,942.34 217.79,940.53 219.40,938.40 C221.22,936.00 222.96,932.74 224.50,930.20 C225.82,928.02 227.02,926.06 228.10,924.10 C229.07,922.34 229.95,920.76 230.70,919.00 C231.45,917.23 231.92,915.52 232.60,913.50 C233.43,911.04 234.29,908.49 235.30,905.30 C236.70,900.88 238.64,894.93 240.10,889.40 C241.66,883.49 243.05,877.22 244.30,870.90 C245.60,864.33 246.72,857.44 247.70,850.70 C248.68,843.98 249.45,837.24 250.20,830.50 C250.95,823.77 251.53,817.35 252.20,810.30 C252.93,802.55 253.86,792.23 254.40,785.90 C254.74,781.87 255.07,777.65 255.20,776.00" stroke="#fc8d62"/>
</g>
<clipPath id="clip13"><rect x="396.50" y="786.10" width="282.70" height="195.60"/></clipPath>
<g clip-path="url(#clip13)" fill="none" stroke-width="1.6" stroke-linejoin="round" stroke-linecap="butt">
<path d="M396.50,963.80 C396.60,963.82 396.78,963.85 397.10,963.90 C398.36,964.11 403.28,964.92 406.50,965.50 C409.91,966.11 413.50,966.88 417.00,967.50 C420.50,968.12 424.00,968.65 427.50,969.20 C431.00,969.75 434.49,970.30 438.00,970.80 C441.52,971.30 445.07,971.77 448.60,972.20 C452.11,972.63 455.74,973.08 459.10,973.40 C462.19,973.70 464.91,973.89 468.00,974.10 C471.35,974.33 475.00,974.57 478.50,974.70 C482.00,974.83 485.50,974.90 489.00,974.90 C492.50,974.90 496.00,974.82 499.50,974.70 C503.00,974.58 506.49,974.35 510.00,974.20 C513.52,974.05 517.07,973.82 520.60,973.80 C524.11,973.78 527.74,974.00 531.10,974.10 C534.19,974.19 536.91,974.23 540.00,974.35 C543.36,974.49 547.00,974.64 550.50,974.90 C554.00,975.16 557.50,975.63 561.00,975.90 C564.50,976.17 568.00,976.35 571.50,976.50 C575.00,976.65 578.49,976.85 582.00,976.80 C585.53,976.75 589.08,976.52 592.60,976.20 C596.11,975.88 599.54,975.69 603.10,974.90 C606.96,974.05 611.16,972.45 614.90,971.10 C618.37,969.84 621.79,968.80 624.80,967.10 C627.70,965.47 630.39,963.50 632.70,961.20 C635.02,958.90 636.97,956.40 638.70,953.30 C640.74,949.64 642.28,945.11 643.70,940.40 C645.33,935.00 646.50,928.99 647.60,922.60 C648.86,915.27 649.77,906.74 650.60,898.80 C651.43,890.88 652.01,882.57 652.60,875.00 C653.13,868.10 653.45,861.96 654.00,855.20 C654.58,848.11 655.39,841.04 656.00,833.40 C656.67,824.95 657.20,815.01 657.80,806.70 C658.33,799.41 659.01,791.85 659.40,786.20 C659.67,782.21 659.90,777.70 660.00,776.00" stroke="#66c2a5"/>
<path d="M396.50,936.00 C396.60,936.05 396.78,936.14 397.10,936.30 C398.36,936.93 403.28,939.38 406.50,941.00 C409.90,942.71 413.50,944.55 417.00,946.30 C420.50,948.05 424.01,949.72 427.50,951.50 C431.01,953.29 434.47,955.28 438.00,957.00 C441.50,958.71 445.06,960.26 448.60,961.80 C452.10,963.32 455.71,965.02 459.10,966.20 C462.16,967.26 465.28,968.06 468.00,968.70 C470.27,969.23 471.98,969.54 474.30,969.90 C477.14,970.33 480.55,970.89 483.80,971.00 C487.21,971.12 490.80,970.77 494.30,970.50 C497.80,970.23 501.30,969.72 504.80,969.40 C508.30,969.08 511.80,968.87 515.30,968.60 C518.80,968.33 522.04,968.08 525.80,967.80 C530.18,967.48 535.62,967.02 540.00,966.80 C543.76,966.61 546.77,966.62 550.50,966.50 C554.76,966.36 559.94,965.92 564.20,966.00 C567.93,966.07 571.30,966.40 574.70,966.80 C577.93,967.18 581.65,967.85 584.10,968.30 C585.69,968.59 586.50,968.83 588.00,969.10 C590.03,969.46 593.06,970.36 595.20,970.20 C596.98,970.07 598.38,969.45 600.00,968.70 C601.87,967.83 603.84,966.41 605.70,965.10 C607.61,963.75 609.63,962.18 611.30,960.70 C612.79,959.38 613.98,957.75 615.30,956.70 C616.38,955.84 617.28,955.22 618.50,954.70 C619.90,954.11 621.64,953.96 623.30,953.50 C625.12,953.00 627.16,952.11 629.00,951.80 C630.65,951.52 632.51,951.96 633.80,951.60 C634.77,951.33 635.51,951.06 636.20,950.30 C637.24,949.15 637.91,946.73 638.60,944.60 C639.42,942.06 640.00,939.39 640.60,936.00 C641.44,931.23 642.05,924.59 642.70,918.60 C643.39,912.22 643.98,905.71 644.60,898.80 C645.28,891.23 645.97,884.04 646.60,875.00 C647.43,863.06 648.30,845.74 648.90,833.40 C649.38,823.52 649.61,815.01 650.00,806.70 C650.35,799.41 650.78,791.85 651.10,786.20 C651.32,782.21 651.60,777.70 651.70,776.00" stroke="#fc8d62"/>
</g>
<g transform="translate(0.00,0.00)">
<line x1="40.40" y1="211.00" x2="43.90" y2="211.00" stroke="#262626" stroke-width="1"/>
<text x="13.63" y="214.60" font-size="11" textLength="23.65" lengthAdjust="spacingAndGlyphs" fill="#000">0.00</text>
<line x1="40.40" y1="184.92" x2="43.90" y2="184.92" stroke="#262626" stroke-width="1"/>
<text x="13.62" y="188.52" font-size="11" textLength="23.79" lengthAdjust="spacingAndGlyphs" fill="#000">0.02</text>
<line x1="40.40" y1="158.84" x2="43.90" y2="158.84" stroke="#262626" stroke-width="1"/>
<text x="13.63" y="162.44" font-size="11" textLength="23.53" lengthAdjust="spacingAndGlyphs" fill="#000">0.04</text>
<line x1="40.40" y1="132.76" x2="43.90" y2="132.76" stroke="#262626" stroke-width="1"/>
<text x="13.62" y="136.36" font-size="11" textLength="23.71" lengthAdjust="spacingAndGlyphs" fill="#000">0.06</text>
<line x1="40.40" y1="106.68" x2="43.90" y2="106.68" stroke="#262626" stroke-width="1"/>
<text x="13.62" y="110.28" font-size="11" textLength="23.71" lengthAdjust="spacingAndGlyphs" fill="#000">0.08</text>
<line x1="40.40" y1="80.60" x2="43.90" y2="80.60" stroke="#262626" stroke-width="1"/>
<text x="13.63" y="84.20" font-size="11" textLength="23.65" lengthAdjust="spacingAndGlyphs" fill="#000">0.10</text>
<line x1="40.40" y1="54.52" x2="43.90" y2="54.52" stroke="#262626" stroke-width="1"/>
<text x="13.62" y="58.12" font-size="11" textLength="23.79" lengthAdjust="spacingAndGlyphs" fill="#000">0.12</text>
<line x1="40.40" y1="28.44" x2="43.90" y2="28.44" stroke="#262626" stroke-width="1"/>
<text x="13.63" y="32.04" font-size="11" textLength="23.53" lengthAdjust="spacingAndGlyphs" fill="#000">0.14</text>
<line x1="49.02" y1="211.00" x2="49.02" y2="213.00" stroke="#262626" stroke-width="0.8"/>
<line x1="53.39" y1="211.00" x2="53.39" y2="213.00" stroke="#262626" stroke-width="0.8"/>
<line x1="57.18" y1="211.00" x2="57.18" y2="213.00" stroke="#262626" stroke-width="0.8"/>
<line x1="60.51" y1="211.00" x2="60.51" y2="213.00" stroke="#262626" stroke-width="0.8"/>
<line x1="63.50" y1="211.00" x2="63.50" y2="214.30" stroke="#262626" stroke-width="1"/>
<line x1="83.10" y1="211.00" x2="83.10" y2="213.00" stroke="#262626" stroke-width="0.8"/>
<line x1="94.56" y1="211.00" x2="94.56" y2="213.00" stroke="#262626" stroke-width="0.8"/>
<line x1="102.69" y1="211.00" x2="102.69" y2="213.00" stroke="#262626" stroke-width="0.8"/>
<line x1="109.00" y1="211.00" x2="109.00" y2="213.00" stroke="#262626" stroke-width="0.8"/>
<line x1="114.16" y1="211.00" x2="114.16" y2="213.00" stroke="#262626" stroke-width="0.8"/>
<line x1="118.52" y1="211.00" x2="118.52" y2="213.00" stroke="#262626" stroke-width="0.8"/>
<line x1="122.29" y1="211.00" x2="122.29" y2="213.00" stroke="#262626" stroke-width="0.8"/>
<line x1="125.62" y1="211.00" x2="125.62" y2="213.00" stroke="#262626" stroke-width="0.8"/>
<line x1="128.60" y1="211.00" x2="128.60" y2="214.30" stroke="#262626" stroke-width="1"/>
<line x1="148.38" y1="211.00" x2="148.38" y2="213.00" stroke="#262626" stroke-width="0.8"/>
<line x1="159.95" y1="211.00" x2="159.95" y2="213.00" stroke="#262626" stroke-width="0.8"/>
<line x1="168.16" y1="211.00" x2="168.16" y2="213.00" stroke="#262626" stroke-width="0.8"/>
<line x1="174.52" y1="211.00" x2="174.52" y2="213.00" stroke="#262626" stroke-width="0.8"/>
<line x1="179.72" y1="211.00" x2="179.72" y2="213.00" stroke="#262626" stroke-width="0.8"/>
<line x1="184.12" y1="211.00" x2="184.12" y2="213.00" stroke="#262626" stroke-width="0.8"/>
<line x1="187.93" y1="211.00" x2="187.93" y2="213.00" stroke="#262626" stroke-width="0.8"/>
<line x1="191.29" y1="211.00" x2="191.29" y2="213.00" stroke="#262626" stroke-width="0.8"/>
<line x1="194.30" y1="211.00" x2="194.30" y2="214.30" stroke="#262626" stroke-width="1"/>
<line x1="213.90" y1="211.00" x2="213.90" y2="213.00" stroke="#262626" stroke-width="0.8"/>
<line x1="225.36" y1="211.00" x2="225.36" y2="213.00" stroke="#262626" stroke-width="0.8"/>
<line x1="233.49" y1="211.00" x2="233.49" y2="213.00" stroke="#262626" stroke-width="0.8"/>
<line x1="239.80" y1="211.00" x2="239.80" y2="213.00" stroke="#262626" stroke-width="0.8"/>
<line x1="244.96" y1="211.00" x2="244.96" y2="213.00" stroke="#262626" stroke-width="0.8"/>
<line x1="249.32" y1="211.00" x2="249.32" y2="213.00" stroke="#262626" stroke-width="0.8"/>
<line x1="253.09" y1="211.00" x2="253.09" y2="213.00" stroke="#262626" stroke-width="0.8"/>
<line x1="256.42" y1="211.00" x2="256.42" y2="213.00" stroke="#262626" stroke-width="0.8"/>
<line x1="259.40" y1="211.00" x2="259.40" y2="214.30" stroke="#262626" stroke-width="1"/>
<line x1="279.00" y1="211.00" x2="279.00" y2="213.00" stroke="#262626" stroke-width="0.8"/>
<line x1="290.46" y1="211.00" x2="290.46" y2="213.00" stroke="#262626" stroke-width="0.8"/>
<line x1="298.59" y1="211.00" x2="298.59" y2="213.00" stroke="#262626" stroke-width="0.8"/>
<line x1="304.90" y1="211.00" x2="304.90" y2="213.00" stroke="#262626" stroke-width="0.8"/>
<line x1="310.06" y1="211.00" x2="310.06" y2="213.00" stroke="#262626" stroke-width="0.8"/>
<line x1="314.42" y1="211.00" x2="314.42" y2="213.00" stroke="#262626" stroke-width="0.8"/>
<line x1="318.19" y1="211.00" x2="318.19" y2="213.00" stroke="#262626" stroke-width="0.8"/>
<line x1="321.52" y1="211.00" x2="321.52" y2="213.00" stroke="#262626" stroke-width="0.8"/>
<line x1="324.50" y1="211.00" x2="324.50" y2="214.30" stroke="#262626" stroke-width="1"/>
<text x="51.10" y="225.60" font-size="11.8" textLength="13.11" lengthAdjust="spacingAndGlyphs" fill="#000">10</text>
<line x1="65.05" y1="219.2" x2="69.50" y2="219.2" stroke="#000" stroke-width="0.8"/>
<text x="71.02" y="221.10" font-size="8.0">4</text>
<text x="116.20" y="225.60" font-size="11.8" textLength="13.11" lengthAdjust="spacingAndGlyphs" fill="#000">10</text>
<line x1="130.15" y1="219.2" x2="134.60" y2="219.2" stroke="#000" stroke-width="0.8"/>
<text x="136.00" y="221.10" font-size="8.0">3</text>
<text x="181.90" y="225.60" font-size="11.8" textLength="13.11" lengthAdjust="spacingAndGlyphs" fill="#000">10</text>
<line x1="195.85" y1="219.2" x2="200.30" y2="219.2" stroke="#000" stroke-width="0.8"/>
<text x="201.60" y="221.10" font-size="8.0">2</text>
<text x="247.00" y="225.60" font-size="11.8" textLength="13.11" lengthAdjust="spacingAndGlyphs" fill="#000">10</text>
<line x1="260.95" y1="219.2" x2="265.40" y2="219.2" stroke="#000" stroke-width="0.8"/>
<text x="266.49" y="221.10" font-size="8.0">1</text>
<text x="315.31" y="225.70" font-size="11.8" textLength="13.05" lengthAdjust="spacingAndGlyphs" fill="#000">10</text>
<text x="329.09" y="221.10" font-size="8.0">0</text>
<line x1="43.90" y1="15.40" x2="43.90" y2="211.00" stroke="#262626" stroke-width="1.1"/>
<line x1="43.30" y1="211.00" x2="326.60" y2="211.00" stroke="#262626" stroke-width="1.1"/>
<text x="182.58" y="239.05" font-size="11" textLength="5.54" lengthAdjust="spacingAndGlyphs" fill="#000">x</text>
<g transform="translate(8.0,169.0) rotate(-90)">
<text x="-0.49" y="0.00" font-size="11" textLength="38.07" lengthAdjust="spacingAndGlyphs" fill="#000">σ(Ratio</text>
<text x="40.91" y="0.00" font-size="11" textLength="10.74" lengthAdjust="spacingAndGlyphs" fill="#000">to</text>
<text x="55.21" y="0.00" font-size="11" textLength="56.17" lengthAdjust="spacingAndGlyphs" fill="#000">NNPDF4.0)</text>
</g>
<text x="155.38" y="9.20" font-size="13.2" textLength="12.12" lengthAdjust="spacingAndGlyphs" fill="#000">at</text>
<text x="172.00" y="9.20" font-size="13.2" textLength="24.06" lengthAdjust="spacingAndGlyphs" fill="#000">100</text>
<text x="200.15" y="9.20" font-size="13.2" textLength="26.01" lengthAdjust="spacingAndGlyphs" fill="#000">GeV</text>
<text x="143.05" y="9.20" font-size="13.2" textLength="8.12" lengthAdjust="spacingAndGlyphs" fill="#000">u</text>
</g>
<g transform="translate(352.60,0.00)">
<line x1="40.40" y1="211.00" x2="43.90" y2="211.00" stroke="#262626" stroke-width="1"/>
<text x="13.63" y="214.60" font-size="11" textLength="23.65" lengthAdjust="spacingAndGlyphs" fill="#000">0.00</text>
<line x1="40.40" y1="184.92" x2="43.90" y2="184.92" stroke="#262626" stroke-width="1"/>
<text x="13.62" y="188.52" font-size="11" textLength="23.79" lengthAdjust="spacingAndGlyphs" fill="#000">0.02</text>
<line x1="40.40" y1="158.84" x2="43.90" y2="158.84" stroke="#262626" stroke-width="1"/>
<text x="13.63" y="162.44" font-size="11" textLength="23.53" lengthAdjust="spacingAndGlyphs" fill="#000">0.04</text>
<line x1="40.40" y1="132.76" x2="43.90" y2="132.76" stroke="#262626" stroke-width="1"/>
<text x="13.62" y="136.36" font-size="11" textLength="23.71" lengthAdjust="spacingAndGlyphs" fill="#000">0.06</text>
<line x1="40.40" y1="106.68" x2="43.90" y2="106.68" stroke="#262626" stroke-width="1"/>
<text x="13.62" y="110.28" font-size="11" textLength="23.71" lengthAdjust="spacingAndGlyphs" fill="#000">0.08</text>
<line x1="40.40" y1="80.60" x2="43.90" y2="80.60" stroke="#262626" stroke-width="1"/>
<text x="13.63" y="84.20" font-size="11" textLength="23.65" lengthAdjust="spacingAndGlyphs" fill="#000">0.10</text>
<line x1="40.40" y1="54.52" x2="43.90" y2="54.52" stroke="#262626" stroke-width="1"/>
<text x="13.62" y="58.12" font-size="11" textLength="23.79" lengthAdjust="spacingAndGlyphs" fill="#000">0.12</text>
<line x1="40.40" y1="28.44" x2="43.90" y2="28.44" stroke="#262626" stroke-width="1"/>
<text x="13.63" y="32.04" font-size="11" textLength="23.53" lengthAdjust="spacingAndGlyphs" fill="#000">0.14</text>
<line x1="49.02" y1="211.00" x2="49.02" y2="213.00" stroke="#262626" stroke-width="0.8"/>
<line x1="53.39" y1="211.00" x2="53.39" y2="213.00" stroke="#262626" stroke-width="0.8"/>
<line x1="57.18" y1="211.00" x2="57.18" y2="213.00" stroke="#262626" stroke-width="0.8"/>
<line x1="60.51" y1="211.00" x2="60.51" y2="213.00" stroke="#262626" stroke-width="0.8"/>
<line x1="63.50" y1="211.00" x2="63.50" y2="214.30" stroke="#262626" stroke-width="1"/>
<line x1="83.10" y1="211.00" x2="83.10" y2="213.00" stroke="#262626" stroke-width="0.8"/>
<line x1="94.56" y1="211.00" x2="94.56" y2="213.00" stroke="#262626" stroke-width="0.8"/>
<line x1="102.69" y1="211.00" x2="102.69" y2="213.00" stroke="#262626" stroke-width="0.8"/>
<line x1="109.00" y1="211.00" x2="109.00" y2="213.00" stroke="#262626" stroke-width="0.8"/>
<line x1="114.16" y1="211.00" x2="114.16" y2="213.00" stroke="#262626" stroke-width="0.8"/>
<line x1="118.52" y1="211.00" x2="118.52" y2="213.00" stroke="#262626" stroke-width="0.8"/>
<line x1="122.29" y1="211.00" x2="122.29" y2="213.00" stroke="#262626" stroke-width="0.8"/>
<line x1="125.62" y1="211.00" x2="125.62" y2="213.00" stroke="#262626" stroke-width="0.8"/>
<line x1="128.60" y1="211.00" x2="128.60" y2="214.30" stroke="#262626" stroke-width="1"/>
<line x1="148.38" y1="211.00" x2="148.38" y2="213.00" stroke="#262626" stroke-width="0.8"/>
<line x1="159.95" y1="211.00" x2="159.95" y2="213.00" stroke="#262626" stroke-width="0.8"/>
<line x1="168.16" y1="211.00" x2="168.16" y2="213.00" stroke="#262626" stroke-width="0.8"/>
<line x1="174.52" y1="211.00" x2="174.52" y2="213.00" stroke="#262626" stroke-width="0.8"/>
<line x1="179.72" y1="211.00" x2="179.72" y2="213.00" stroke="#262626" stroke-width="0.8"/>
<line x1="184.12" y1="211.00" x2="184.12" y2="213.00" stroke="#262626" stroke-width="0.8"/>
<line x1="187.93" y1="211.00" x2="187.93" y2="213.00" stroke="#262626" stroke-width="0.8"/>
<line x1="191.29" y1="211.00" x2="191.29" y2="213.00" stroke="#262626" stroke-width="0.8"/>
<line x1="194.30" y1="211.00" x2="194.30" y2="214.30" stroke="#262626" stroke-width="1"/>
<line x1="213.90" y1="211.00" x2="213.90" y2="213.00" stroke="#262626" stroke-width="0.8"/>
<line x1="225.36" y1="211.00" x2="225.36" y2="213.00" stroke="#262626" stroke-width="0.8"/>
<line x1="233.49" y1="211.00" x2="233.49" y2="213.00" stroke="#262626" stroke-width="0.8"/>
<line x1="239.80" y1="211.00" x2="239.80" y2="213.00" stroke="#262626" stroke-width="0.8"/>
<line x1="244.96" y1="211.00" x2="244.96" y2="213.00" stroke="#262626" stroke-width="0.8"/>
<line x1="249.32" y1="211.00" x2="249.32" y2="213.00" stroke="#262626" stroke-width="0.8"/>
<line x1="253.09" y1="211.00" x2="253.09" y2="213.00" stroke="#262626" stroke-width="0.8"/>
<line x1="256.42" y1="211.00" x2="256.42" y2="213.00" stroke="#262626" stroke-width="0.8"/>
<line x1="259.40" y1="211.00" x2="259.40" y2="214.30" stroke="#262626" stroke-width="1"/>
<line x1="279.00" y1="211.00" x2="279.00" y2="213.00" stroke="#262626" stroke-width="0.8"/>
<line x1="290.46" y1="211.00" x2="290.46" y2="213.00" stroke="#262626" stroke-width="0.8"/>
<line x1="298.59" y1="211.00" x2="298.59" y2="213.00" stroke="#262626" stroke-width="0.8"/>
<line x1="304.90" y1="211.00" x2="304.90" y2="213.00" stroke="#262626" stroke-width="0.8"/>
<line x1="310.06" y1="211.00" x2="310.06" y2="213.00" stroke="#262626" stroke-width="0.8"/>
<line x1="314.42" y1="211.00" x2="314.42" y2="213.00" stroke="#262626" stroke-width="0.8"/>
<line x1="318.19" y1="211.00" x2="318.19" y2="213.00" stroke="#262626" stroke-width="0.8"/>
<line x1="321.52" y1="211.00" x2="321.52" y2="213.00" stroke="#262626" stroke-width="0.8"/>
<line x1="324.50" y1="211.00" x2="324.50" y2="214.30" stroke="#262626" stroke-width="1"/>
<text x="51.10" y="225.60" font-size="11.8" textLength="13.11" lengthAdjust="spacingAndGlyphs" fill="#000">10</text>
<line x1="65.05" y1="219.2" x2="69.50" y2="219.2" stroke="#000" stroke-width="0.8"/>
<text x="71.02" y="221.10" font-size="8.0">4</text>
<text x="116.20" y="225.60" font-size="11.8" textLength="13.11" lengthAdjust="spacingAndGlyphs" fill="#000">10</text>
<line x1="130.15" y1="219.2" x2="134.60" y2="219.2" stroke="#000" stroke-width="0.8"/>
<text x="136.00" y="221.10" font-size="8.0">3</text>
<text x="181.90" y="225.60" font-size="11.8" textLength="13.11" lengthAdjust="spacingAndGlyphs" fill="#000">10</text>
<line x1="195.85" y1="219.2" x2="200.30" y2="219.2" stroke="#000" stroke-width="0.8"/>
<text x="201.60" y="221.10" font-size="8.0">2</text>
<text x="247.00" y="225.60" font-size="11.8" textLength="13.11" lengthAdjust="spacingAndGlyphs" fill="#000">10</text>
<line x1="260.95" y1="219.2" x2="265.40" y2="219.2" stroke="#000" stroke-width="0.8"/>
<text x="266.49" y="221.10" font-size="8.0">1</text>
<text x="315.31" y="225.70" font-size="11.8" textLength="13.05" lengthAdjust="spacingAndGlyphs" fill="#000">10</text>
<text x="329.09" y="221.10" font-size="8.0">0</text>
<line x1="43.90" y1="15.40" x2="43.90" y2="211.00" stroke="#262626" stroke-width="1.1"/>
<line x1="43.30" y1="211.00" x2="326.60" y2="211.00" stroke="#262626" stroke-width="1.1"/>
<text x="182.58" y="239.05" font-size="11" textLength="5.54" lengthAdjust="spacingAndGlyphs" fill="#000">x</text>
<g transform="translate(8.0,169.0) rotate(-90)">
<text x="-0.49" y="0.00" font-size="11" textLength="38.07" lengthAdjust="spacingAndGlyphs" fill="#000">σ(Ratio</text>
<text x="40.91" y="0.00" font-size="11" textLength="10.74" lengthAdjust="spacingAndGlyphs" fill="#000">to</text>
<text x="55.21" y="0.00" font-size="11" textLength="56.17" lengthAdjust="spacingAndGlyphs" fill="#000">NNPDF4.0)</text>
</g>
<text x="155.38" y="9.20" font-size="13.2" textLength="12.12" lengthAdjust="spacingAndGlyphs" fill="#000">at</text>
<text x="172.00" y="9.20" font-size="13.2" textLength="24.06" lengthAdjust="spacingAndGlyphs" fill="#000">100</text>
<text x="200.15" y="9.20" font-size="13.2" textLength="26.01" lengthAdjust="spacingAndGlyphs" fill="#000">GeV</text>
<text x="143.05" y="9.20" font-size="13.2" textLength="8.12" lengthAdjust="spacingAndGlyphs" fill="#000">u</text>
<line x1="146.20" y1="0.30" x2="150.50" y2="0.30" stroke="#000" stroke-width="0.8"/>
</g>
<g transform="translate(0.00,257.70)">
<line x1="40.40" y1="211.00" x2="43.90" y2="211.00" stroke="#262626" stroke-width="1"/>
<text x="13.63" y="214.60" font-size="11" textLength="23.65" lengthAdjust="spacingAndGlyphs" fill="#000">0.00</text>
<line x1="40.40" y1="184.92" x2="43.90" y2="184.92" stroke="#262626" stroke-width="1"/>
<text x="13.62" y="188.52" font-size="11" textLength="23.79" lengthAdjust="spacingAndGlyphs" fill="#000">0.02</text>
<line x1="40.40" y1="158.84" x2="43.90" y2="158.84" stroke="#262626" stroke-width="1"/>
<text x="13.63" y="162.44" font-size="11" textLength="23.53" lengthAdjust="spacingAndGlyphs" fill="#000">0.04</text>
<line x1="40.40" y1="132.76" x2="43.90" y2="132.76" stroke="#262626" stroke-width="1"/>
<text x="13.62" y="136.36" font-size="11" textLength="23.71" lengthAdjust="spacingAndGlyphs" fill="#000">0.06</text>
<line x1="40.40" y1="106.68" x2="43.90" y2="106.68" stroke="#262626" stroke-width="1"/>
<text x="13.62" y="110.28" font-size="11" textLength="23.71" lengthAdjust="spacingAndGlyphs" fill="#000">0.08</text>
<line x1="40.40" y1="80.60" x2="43.90" y2="80.60" stroke="#262626" stroke-width="1"/>
<text x="13.63" y="84.20" font-size="11" textLength="23.65" lengthAdjust="spacingAndGlyphs" fill="#000">0.10</text>
<line x1="40.40" y1="54.52" x2="43.90" y2="54.52" stroke="#262626" stroke-width="1"/>
<text x="13.62" y="58.12" font-size="11" textLength="23.79" lengthAdjust="spacingAndGlyphs" fill="#000">0.12</text>
<line x1="40.40" y1="28.44" x2="43.90" y2="28.44" stroke="#262626" stroke-width="1"/>
<text x="13.63" y="32.04" font-size="11" textLength="23.53" lengthAdjust="spacingAndGlyphs" fill="#000">0.14</text>
<line x1="49.02" y1="211.00" x2="49.02" y2="213.00" stroke="#262626" stroke-width="0.8"/>
<line x1="53.39" y1="211.00" x2="53.39" y2="213.00" stroke="#262626" stroke-width="0.8"/>
<line x1="57.18" y1="211.00" x2="57.18" y2="213.00" stroke="#262626" stroke-width="0.8"/>
<line x1="60.51" y1="211.00" x2="60.51" y2="213.00" stroke="#262626" stroke-width="0.8"/>
<line x1="63.50" y1="211.00" x2="63.50" y2="214.30" stroke="#262626" stroke-width="1"/>
<line x1="83.10" y1="211.00" x2="83.10" y2="213.00" stroke="#262626" stroke-width="0.8"/>
<line x1="94.56" y1="211.00" x2="94.56" y2="213.00" stroke="#262626" stroke-width="0.8"/>
<line x1="102.69" y1="211.00" x2="102.69" y2="213.00" stroke="#262626" stroke-width="0.8"/>
<line x1="109.00" y1="211.00" x2="109.00" y2="213.00" stroke="#262626" stroke-width="0.8"/>
<line x1="114.16" y1="211.00" x2="114.16" y2="213.00" stroke="#262626" stroke-width="0.8"/>
<line x1="118.52" y1="211.00" x2="118.52" y2="213.00" stroke="#262626" stroke-width="0.8"/>
<line x1="122.29" y1="211.00" x2="122.29" y2="213.00" stroke="#262626" stroke-width="0.8"/>
<line x1="125.62" y1="211.00" x2="125.62" y2="213.00" stroke="#262626" stroke-width="0.8"/>
<line x1="128.60" y1="211.00" x2="128.60" y2="214.30" stroke="#262626" stroke-width="1"/>
<line x1="148.38" y1="211.00" x2="148.38" y2="213.00" stroke="#262626" stroke-width="0.8"/>
<line x1="159.95" y1="211.00" x2="159.95" y2="213.00" stroke="#262626" stroke-width="0.8"/>
<line x1="168.16" y1="211.00" x2="168.16" y2="213.00" stroke="#262626" stroke-width="0.8"/>
<line x1="174.52" y1="211.00" x2="174.52" y2="213.00" stroke="#262626" stroke-width="0.8"/>
<line x1="179.72" y1="211.00" x2="179.72" y2="213.00" stroke="#262626" stroke-width="0.8"/>
<line x1="184.12" y1="211.00" x2="184.12" y2="213.00" stroke="#262626" stroke-width="0.8"/>
<line x1="187.93" y1="211.00" x2="187.93" y2="213.00" stroke="#262626" stroke-width="0.8"/>
<line x1="191.29" y1="211.00" x2="191.29" y2="213.00" stroke="#262626" stroke-width="0.8"/>
<line x1="194.30" y1="211.00" x2="194.30" y2="214.30" stroke="#262626" stroke-width="1"/>
<line x1="213.90" y1="211.00" x2="213.90" y2="213.00" stroke="#262626" stroke-width="0.8"/>
<line x1="225.36" y1="211.00" x2="225.36" y2="213.00" stroke="#262626" stroke-width="0.8"/>
<line x1="233.49" y1="211.00" x2="233.49" y2="213.00" stroke="#262626" stroke-width="0.8"/>
<line x1="239.80" y1="211.00" x2="239.80" y2="213.00" stroke="#262626" stroke-width="0.8"/>
<line x1="244.96" y1="211.00" x2="244.96" y2="213.00" stroke="#262626" stroke-width="0.8"/>
<line x1="249.32" y1="211.00" x2="249.32" y2="213.00" stroke="#262626" stroke-width="0.8"/>
<line x1="253.09" y1="211.00" x2="253.09" y2="213.00" stroke="#262626" stroke-width="0.8"/>
<line x1="256.42" y1="211.00" x2="256.42" y2="213.00" stroke="#262626" stroke-width="0.8"/>
<line x1="259.40" y1="211.00" x2="259.40" y2="214.30" stroke="#262626" stroke-width="1"/>
<line x1="279.00" y1="211.00" x2="279.00" y2="213.00" stroke="#262626" stroke-width="0.8"/>
<line x1="290.46" y1="211.00" x2="290.46" y2="213.00" stroke="#262626" stroke-width="0.8"/>
<line x1="298.59" y1="211.00" x2="298.59" y2="213.00" stroke="#262626" stroke-width="0.8"/>
<line x1="304.90" y1="211.00" x2="304.90" y2="213.00" stroke="#262626" stroke-width="0.8"/>
<line x1="310.06" y1="211.00" x2="310.06" y2="213.00" stroke="#262626" stroke-width="0.8"/>
<line x1="314.42" y1="211.00" x2="314.42" y2="213.00" stroke="#262626" stroke-width="0.8"/>
<line x1="318.19" y1="211.00" x2="318.19" y2="213.00" stroke="#262626" stroke-width="0.8"/>
<line x1="321.52" y1="211.00" x2="321.52" y2="213.00" stroke="#262626" stroke-width="0.8"/>
<line x1="324.50" y1="211.00" x2="324.50" y2="214.30" stroke="#262626" stroke-width="1"/>
<text x="51.10" y="225.60" font-size="11.8" textLength="13.11" lengthAdjust="spacingAndGlyphs" fill="#000">10</text>
<line x1="65.05" y1="219.2" x2="69.50" y2="219.2" stroke="#000" stroke-width="0.8"/>
<text x="71.02" y="221.10" font-size="8.0">4</text>
<text x="116.20" y="225.60" font-size="11.8" textLength="13.11" lengthAdjust="spacingAndGlyphs" fill="#000">10</text>
<line x1="130.15" y1="219.2" x2="134.60" y2="219.2" stroke="#000" stroke-width="0.8"/>
<text x="136.00" y="221.10" font-size="8.0">3</text>
<text x="181.90" y="225.60" font-size="11.8" textLength="13.11" lengthAdjust="spacingAndGlyphs" fill="#000">10</text>
<line x1="195.85" y1="219.2" x2="200.30" y2="219.2" stroke="#000" stroke-width="0.8"/>
<text x="201.60" y="221.10" font-size="8.0">2</text>
<text x="247.00" y="225.60" font-size="11.8" textLength="13.11" lengthAdjust="spacingAndGlyphs" fill="#000">10</text>
<line x1="260.95" y1="219.2" x2="265.40" y2="219.2" stroke="#000" stroke-width="0.8"/>
<text x="266.49" y="221.10" font-size="8.0">1</text>
<text x="315.31" y="225.70" font-size="11.8" textLength="13.05" lengthAdjust="spacingAndGlyphs" fill="#000">10</text>
<text x="329.09" y="221.10" font-size="8.0">0</text>
<line x1="43.90" y1="15.40" x2="43.90" y2="211.00" stroke="#262626" stroke-width="1.1"/>
<line x1="43.30" y1="211.00" x2="326.60" y2="211.00" stroke="#262626" stroke-width="1.1"/>
<text x="182.58" y="239.05" font-size="11" textLength="5.54" lengthAdjust="spacingAndGlyphs" fill="#000">x</text>
<g transform="translate(8.0,169.0) rotate(-90)">
<text x="-0.49" y="0.00" font-size="11" textLength="38.07" lengthAdjust="spacingAndGlyphs" fill="#000">σ(Ratio</text>
<text x="40.91" y="0.00" font-size="11" textLength="10.74" lengthAdjust="spacingAndGlyphs" fill="#000">to</text>
<text x="55.21" y="0.00" font-size="11" textLength="56.17" lengthAdjust="spacingAndGlyphs" fill="#000">NNPDF4.0)</text>
</g>
<text x="155.38" y="9.20" font-size="13.2" textLength="12.12" lengthAdjust="spacingAndGlyphs" fill="#000">at</text>
<text x="172.00" y="9.20" font-size="13.2" textLength="24.06" lengthAdjust="spacingAndGlyphs" fill="#000">100</text>
<text x="200.15" y="9.20" font-size="13.2" textLength="26.01" lengthAdjust="spacingAndGlyphs" fill="#000">GeV</text>
<text x="143.22" y="9.20" font-size="13.2" textLength="7.67" lengthAdjust="spacingAndGlyphs" fill="#000">d</text>
</g>
<g transform="translate(352.60,257.70)">
<line x1="40.40" y1="211.00" x2="43.90" y2="211.00" stroke="#262626" stroke-width="1"/>
<text x="13.63" y="214.60" font-size="11" textLength="23.65" lengthAdjust="spacingAndGlyphs" fill="#000">0.00</text>
<line x1="40.40" y1="184.92" x2="43.90" y2="184.92" stroke="#262626" stroke-width="1"/>
<text x="13.62" y="188.52" font-size="11" textLength="23.79" lengthAdjust="spacingAndGlyphs" fill="#000">0.02</text>
<line x1="40.40" y1="158.84" x2="43.90" y2="158.84" stroke="#262626" stroke-width="1"/>
<text x="13.63" y="162.44" font-size="11" textLength="23.53" lengthAdjust="spacingAndGlyphs" fill="#000">0.04</text>
<line x1="40.40" y1="132.76" x2="43.90" y2="132.76" stroke="#262626" stroke-width="1"/>
<text x="13.62" y="136.36" font-size="11" textLength="23.71" lengthAdjust="spacingAndGlyphs" fill="#000">0.06</text>
<line x1="40.40" y1="106.68" x2="43.90" y2="106.68" stroke="#262626" stroke-width="1"/>
<text x="13.62" y="110.28" font-size="11" textLength="23.71" lengthAdjust="spacingAndGlyphs" fill="#000">0.08</text>
<line x1="40.40" y1="80.60" x2="43.90" y2="80.60" stroke="#262626" stroke-width="1"/>
<text x="13.63" y="84.20" font-size="11" textLength="23.65" lengthAdjust="spacingAndGlyphs" fill="#000">0.10</text>
<line x1="40.40" y1="54.52" x2="43.90" y2="54.52" stroke="#262626" stroke-width="1"/>
<text x="13.62" y="58.12" font-size="11" textLength="23.79" lengthAdjust="spacingAndGlyphs" fill="#000">0.12</text>
<line x1="40.40" y1="28.44" x2="43.90" y2="28.44" stroke="#262626" stroke-width="1"/>
<text x="13.63" y="32.04" font-size="11" textLength="23.53" lengthAdjust="spacingAndGlyphs" fill="#000">0.14</text>
<line x1="49.02" y1="211.00" x2="49.02" y2="213.00" stroke="#262626" stroke-width="0.8"/>
<line x1="53.39" y1="211.00" x2="53.39" y2="213.00" stroke="#262626" stroke-width="0.8"/>
<line x1="57.18" y1="211.00" x2="57.18" y2="213.00" stroke="#262626" stroke-width="0.8"/>
<line x1="60.51" y1="211.00" x2="60.51" y2="213.00" stroke="#262626" stroke-width="0.8"/>
<line x1="63.50" y1="211.00" x2="63.50" y2="214.30" stroke="#262626" stroke-width="1"/>
<line x1="83.10" y1="211.00" x2="83.10" y2="213.00" stroke="#262626" stroke-width="0.8"/>
<line x1="94.56" y1="211.00" x2="94.56" y2="213.00" stroke="#262626" stroke-width="0.8"/>
<line x1="102.69" y1="211.00" x2="102.69" y2="213.00" stroke="#262626" stroke-width="0.8"/>
<line x1="109.00" y1="211.00" x2="109.00" y2="213.00" stroke="#262626" stroke-width="0.8"/>
<line x1="114.16" y1="211.00" x2="114.16" y2="213.00" stroke="#262626" stroke-width="0.8"/>
<line x1="118.52" y1="211.00" x2="118.52" y2="213.00" stroke="#262626" stroke-width="0.8"/>
<line x1="122.29" y1="211.00" x2="122.29" y2="213.00" stroke="#262626" stroke-width="0.8"/>
<line x1="125.62" y1="211.00" x2="125.62" y2="213.00" stroke="#262626" stroke-width="0.8"/>
<line x1="128.60" y1="211.00" x2="128.60" y2="214.30" stroke="#262626" stroke-width="1"/>
<line x1="148.38" y1="211.00" x2="148.38" y2="213.00" stroke="#262626" stroke-width="0.8"/>
<line x1="159.95" y1="211.00" x2="159.95" y2="213.00" stroke="#262626" stroke-width="0.8"/>
<line x1="168.16" y1="211.00" x2="168.16" y2="213.00" stroke="#262626" stroke-width="0.8"/>
<line x1="174.52" y1="211.00" x2="174.52" y2="213.00" stroke="#262626" stroke-width="0.8"/>
<line x1="179.72" y1="211.00" x2="179.72" y2="213.00" stroke="#262626" stroke-width="0.8"/>
<line x1="184.12" y1="211.00" x2="184.12" y2="213.00" stroke="#262626" stroke-width="0.8"/>
<line x1="187.93" y1="211.00" x2="187.93" y2="213.00" stroke="#262626" stroke-width="0.8"/>
<line x1="191.29" y1="211.00" x2="191.29" y2="213.00" stroke="#262626" stroke-width="0.8"/>
<line x1="194.30" y1="211.00" x2="194.30" y2="214.30" stroke="#262626" stroke-width="1"/>
<line x1="213.90" y1="211.00" x2="213.90" y2="213.00" stroke="#262626" stroke-width="0.8"/>
<line x1="225.36" y1="211.00" x2="225.36" y2="213.00" stroke="#262626" stroke-width="0.8"/>
<line x1="233.49" y1="211.00" x2="233.49" y2="213.00" stroke="#262626" stroke-width="0.8"/>
<line x1="239.80" y1="211.00" x2="239.80" y2="213.00" stroke="#262626" stroke-width="0.8"/>
<line x1="244.96" y1="211.00" x2="244.96" y2="213.00" stroke="#262626" stroke-width="0.8"/>
<line x1="249.32" y1="211.00" x2="249.32" y2="213.00" stroke="#262626" stroke-width="0.8"/>
<line x1="253.09" y1="211.00" x2="253.09" y2="213.00" stroke="#262626" stroke-width="0.8"/>
<line x1="256.42" y1="211.00" x2="256.42" y2="213.00" stroke="#262626" stroke-width="0.8"/>
<line x1="259.40" y1="211.00" x2="259.40" y2="214.30" stroke="#262626" stroke-width="1"/>
<line x1="279.00" y1="211.00" x2="279.00" y2="213.00" stroke="#262626" stroke-width="0.8"/>
<line x1="290.46" y1="211.00" x2="290.46" y2="213.00" stroke="#262626" stroke-width="0.8"/>
<line x1="298.59" y1="211.00" x2="298.59" y2="213.00" stroke="#262626" stroke-width="0.8"/>
<line x1="304.90" y1="211.00" x2="304.90" y2="213.00" stroke="#262626" stroke-width="0.8"/>
<line x1="310.06" y1="211.00" x2="310.06" y2="213.00" stroke="#262626" stroke-width="0.8"/>
<line x1="314.42" y1="211.00" x2="314.42" y2="213.00" stroke="#262626" stroke-width="0.8"/>
<line x1="318.19" y1="211.00" x2="318.19" y2="213.00" stroke="#262626" stroke-width="0.8"/>
<line x1="321.52" y1="211.00" x2="321.52" y2="213.00" stroke="#262626" stroke-width="0.8"/>
<line x1="324.50" y1="211.00" x2="324.50" y2="214.30" stroke="#262626" stroke-width="1"/>
<text x="51.10" y="225.60" font-size="11.8" textLength="13.11" lengthAdjust="spacingAndGlyphs" fill="#000">10</text>
<line x1="65.05" y1="219.2" x2="69.50" y2="219.2" stroke="#000" stroke-width="0.8"/>
<text x="71.02" y="221.10" font-size="8.0">4</text>
<text x="116.20" y="225.60" font-size="11.8" textLength="13.11" lengthAdjust="spacingAndGlyphs" fill="#000">10</text>
<line x1="130.15" y1="219.2" x2="134.60" y2="219.2" stroke="#000" stroke-width="0.8"/>
<text x="136.00" y="221.10" font-size="8.0">3</text>
<text x="181.90" y="225.60" font-size="11.8" textLength="13.11" lengthAdjust="spacingAndGlyphs" fill="#000">10</text>
<line x1="195.85" y1="219.2" x2="200.30" y2="219.2" stroke="#000" stroke-width="0.8"/>
<text x="201.60" y="221.10" font-size="8.0">2</text>
<text x="247.00" y="225.60" font-size="11.8" textLength="13.11" lengthAdjust="spacingAndGlyphs" fill="#000">10</text>
<line x1="260.95" y1="219.2" x2="265.40" y2="219.2" stroke="#000" stroke-width="0.8"/>
<text x="266.49" y="221.10" font-size="8.0">1</text>
<text x="315.31" y="225.70" font-size="11.8" textLength="13.05" lengthAdjust="spacingAndGlyphs" fill="#000">10</text>
<text x="329.09" y="221.10" font-size="8.0">0</text>
<line x1="43.90" y1="15.40" x2="43.90" y2="211.00" stroke="#262626" stroke-width="1.1"/>
<line x1="43.30" y1="211.00" x2="326.60" y2="211.00" stroke="#262626" stroke-width="1.1"/>
<text x="182.58" y="239.05" font-size="11" textLength="5.54" lengthAdjust="spacingAndGlyphs" fill="#000">x</text>
<g transform="translate(8.0,169.0) rotate(-90)">
<text x="-0.49" y="0.00" font-size="11" textLength="38.07" lengthAdjust="spacingAndGlyphs" fill="#000">σ(Ratio</text>
<text x="40.91" y="0.00" font-size="11" textLength="10.74" lengthAdjust="spacingAndGlyphs" fill="#000">to</text>
<text x="55.21" y="0.00" font-size="11" textLength="56.17" lengthAdjust="spacingAndGlyphs" fill="#000">NNPDF4.0)</text>
</g>
<text x="155.38" y="9.20" font-size="13.2" textLength="12.12" lengthAdjust="spacingAndGlyphs" fill="#000">at</text>
<text x="172.00" y="9.20" font-size="13.2" textLength="24.06" lengthAdjust="spacingAndGlyphs" fill="#000">100</text>
<text x="200.15" y="9.20" font-size="13.2" textLength="26.01" lengthAdjust="spacingAndGlyphs" fill="#000">GeV</text>
<text x="143.22" y="9.20" font-size="13.2" textLength="7.67" lengthAdjust="spacingAndGlyphs" fill="#000">d</text>
<line x1="146.00" y1="-2.10" x2="149.40" y2="-2.10" stroke="#000" stroke-width="0.8"/>
</g>
<g transform="translate(0.00,514.00)">
<line x1="40.40" y1="211.00" x2="43.90" y2="211.00" stroke="#262626" stroke-width="1"/>
<text x="13.63" y="214.60" font-size="11" textLength="23.65" lengthAdjust="spacingAndGlyphs" fill="#000">0.00</text>
<line x1="40.40" y1="184.92" x2="43.90" y2="184.92" stroke="#262626" stroke-width="1"/>
<text x="13.62" y="188.52" font-size="11" textLength="23.79" lengthAdjust="spacingAndGlyphs" fill="#000">0.02</text>
<line x1="40.40" y1="158.84" x2="43.90" y2="158.84" stroke="#262626" stroke-width="1"/>
<text x="13.63" y="162.44" font-size="11" textLength="23.53" lengthAdjust="spacingAndGlyphs" fill="#000">0.04</text>
<line x1="40.40" y1="132.76" x2="43.90" y2="132.76" stroke="#262626" stroke-width="1"/>
<text x="13.62" y="136.36" font-size="11" textLength="23.71" lengthAdjust="spacingAndGlyphs" fill="#000">0.06</text>
<line x1="40.40" y1="106.68" x2="43.90" y2="106.68" stroke="#262626" stroke-width="1"/>
<text x="13.62" y="110.28" font-size="11" textLength="23.71" lengthAdjust="spacingAndGlyphs" fill="#000">0.08</text>
<line x1="40.40" y1="80.60" x2="43.90" y2="80.60" stroke="#262626" stroke-width="1"/>
<text x="13.63" y="84.20" font-size="11" textLength="23.65" lengthAdjust="spacingAndGlyphs" fill="#000">0.10</text>
<line x1="40.40" y1="54.52" x2="43.90" y2="54.52" stroke="#262626" stroke-width="1"/>
<text x="13.62" y="58.12" font-size="11" textLength="23.79" lengthAdjust="spacingAndGlyphs" fill="#000">0.12</text>
<line x1="40.40" y1="28.44" x2="43.90" y2="28.44" stroke="#262626" stroke-width="1"/>
<text x="13.63" y="32.04" font-size="11" textLength="23.53" lengthAdjust="spacingAndGlyphs" fill="#000">0.14</text>
<line x1="49.02" y1="211.00" x2="49.02" y2="213.00" stroke="#262626" stroke-width="0.8"/>
<line x1="53.39" y1="211.00" x2="53.39" y2="213.00" stroke="#262626" stroke-width="0.8"/>
<line x1="57.18" y1="211.00" x2="57.18" y2="213.00" stroke="#262626" stroke-width="0.8"/>
<line x1="60.51" y1="211.00" x2="60.51" y2="213.00" stroke="#262626" stroke-width="0.8"/>
<line x1="63.50" y1="211.00" x2="63.50" y2="214.30" stroke="#262626" stroke-width="1"/>
<line x1="83.10" y1="211.00" x2="83.10" y2="213.00" stroke="#262626" stroke-width="0.8"/>
<line x1="94.56" y1="211.00" x2="94.56" y2="213.00" stroke="#262626" stroke-width="0.8"/>
<line x1="102.69" y1="211.00" x2="102.69" y2="213.00" stroke="#262626" stroke-width="0.8"/>
<line x1="109.00" y1="211.00" x2="109.00" y2="213.00" stroke="#262626" stroke-width="0.8"/>
<line x1="114.16" y1="211.00" x2="114.16" y2="213.00" stroke="#262626" stroke-width="0.8"/>
<line x1="118.52" y1="211.00" x2="118.52" y2="213.00" stroke="#262626" stroke-width="0.8"/>
<line x1="122.29" y1="211.00" x2="122.29" y2="213.00" stroke="#262626" stroke-width="0.8"/>
<line x1="125.62" y1="211.00" x2="125.62" y2="213.00" stroke="#262626" stroke-width="0.8"/>
<line x1="128.60" y1="211.00" x2="128.60" y2="214.30" stroke="#262626" stroke-width="1"/>
<line x1="148.38" y1="211.00" x2="148.38" y2="213.00" stroke="#262626" stroke-width="0.8"/>
<line x1="159.95" y1="211.00" x2="159.95" y2="213.00" stroke="#262626" stroke-width="0.8"/>
<line x1="168.16" y1="211.00" x2="168.16" y2="213.00" stroke="#262626" stroke-width="0.8"/>
<line x1="174.52" y1="211.00" x2="174.52" y2="213.00" stroke="#262626" stroke-width="0.8"/>
<line x1="179.72" y1="211.00" x2="179.72" y2="213.00" stroke="#262626" stroke-width="0.8"/>
<line x1="184.12" y1="211.00" x2="184.12" y2="213.00" stroke="#262626" stroke-width="0.8"/>
<line x1="187.93" y1="211.00" x2="187.93" y2="213.00" stroke="#262626" stroke-width="0.8"/>
<line x1="191.29" y1="211.00" x2="191.29" y2="213.00" stroke="#262626" stroke-width="0.8"/>
<line x1="194.30" y1="211.00" x2="194.30" y2="214.30" stroke="#262626" stroke-width="1"/>
<line x1="213.90" y1="211.00" x2="213.90" y2="213.00" stroke="#262626" stroke-width="0.8"/>
<line x1="225.36" y1="211.00" x2="225.36" y2="213.00" stroke="#262626" stroke-width="0.8"/>
<line x1="233.49" y1="211.00" x2="233.49" y2="213.00" stroke="#262626" stroke-width="0.8"/>
<line x1="239.80" y1="211.00" x2="239.80" y2="213.00" stroke="#262626" stroke-width="0.8"/>
<line x1="244.96" y1="211.00" x2="244.96" y2="213.00" stroke="#262626" stroke-width="0.8"/>
<line x1="249.32" y1="211.00" x2="249.32" y2="213.00" stroke="#262626" stroke-width="0.8"/>
<line x1="253.09" y1="211.00" x2="253.09" y2="213.00" stroke="#262626" stroke-width="0.8"/>
<line x1="256.42" y1="211.00" x2="256.42" y2="213.00" stroke="#262626" stroke-width="0.8"/>
<line x1="259.40" y1="211.00" x2="259.40" y2="214.30" stroke="#262626" stroke-width="1"/>
<line x1="279.00" y1="211.00" x2="279.00" y2="213.00" stroke="#262626" stroke-width="0.8"/>
<line x1="290.46" y1="211.00" x2="290.46" y2="213.00" stroke="#262626" stroke-width="0.8"/>
<line x1="298.59" y1="211.00" x2="298.59" y2="213.00" stroke="#262626" stroke-width="0.8"/>
<line x1="304.90" y1="211.00" x2="304.90" y2="213.00" stroke="#262626" stroke-width="0.8"/>
<line x1="310.06" y1="211.00" x2="310.06" y2="213.00" stroke="#262626" stroke-width="0.8"/>
<line x1="314.42" y1="211.00" x2="314.42" y2="213.00" stroke="#262626" stroke-width="0.8"/>
<line x1="318.19" y1="211.00" x2="318.19" y2="213.00" stroke="#262626" stroke-width="0.8"/>
<line x1="321.52" y1="211.00" x2="321.52" y2="213.00" stroke="#262626" stroke-width="0.8"/>
<line x1="324.50" y1="211.00" x2="324.50" y2="214.30" stroke="#262626" stroke-width="1"/>
<text x="51.10" y="225.60" font-size="11.8" textLength="13.11" lengthAdjust="spacingAndGlyphs" fill="#000">10</text>
<line x1="65.05" y1="219.2" x2="69.50" y2="219.2" stroke="#000" stroke-width="0.8"/>
<text x="71.02" y="221.10" font-size="8.0">4</text>
<text x="116.20" y="225.60" font-size="11.8" textLength="13.11" lengthAdjust="spacingAndGlyphs" fill="#000">10</text>
<line x1="130.15" y1="219.2" x2="134.60" y2="219.2" stroke="#000" stroke-width="0.8"/>
<text x="136.00" y="221.10" font-size="8.0">3</text>
<text x="181.90" y="225.60" font-size="11.8" textLength="13.11" lengthAdjust="spacingAndGlyphs" fill="#000">10</text>
<line x1="195.85" y1="219.2" x2="200.30" y2="219.2" stroke="#000" stroke-width="0.8"/>
<text x="201.60" y="221.10" font-size="8.0">2</text>
<text x="247.00" y="225.60" font-size="11.8" textLength="13.11" lengthAdjust="spacingAndGlyphs" fill="#000">10</text>
<line x1="260.95" y1="219.2" x2="265.40" y2="219.2" stroke="#000" stroke-width="0.8"/>
<text x="266.49" y="221.10" font-size="8.0">1</text>
<text x="315.31" y="225.70" font-size="11.8" textLength="13.05" lengthAdjust="spacingAndGlyphs" fill="#000">10</text>
<text x="329.09" y="221.10" font-size="8.0">0</text>
<line x1="43.90" y1="15.40" x2="43.90" y2="211.00" stroke="#262626" stroke-width="1.1"/>
<line x1="43.30" y1="211.00" x2="326.60" y2="211.00" stroke="#262626" stroke-width="1.1"/>
<text x="182.58" y="239.05" font-size="11" textLength="5.54" lengthAdjust="spacingAndGlyphs" fill="#000">x</text>
<g transform="translate(8.0,169.0) rotate(-90)">
<text x="-0.49" y="0.00" font-size="11" textLength="38.07" lengthAdjust="spacingAndGlyphs" fill="#000">σ(Ratio</text>
<text x="40.91" y="0.00" font-size="11" textLength="10.74" lengthAdjust="spacingAndGlyphs" fill="#000">to</text>
<text x="55.21" y="0.00" font-size="11" textLength="56.17" lengthAdjust="spacingAndGlyphs" fill="#000">NNPDF4.0)</text>
</g>
<text x="155.38" y="9.20" font-size="13.2" textLength="12.12" lengthAdjust="spacingAndGlyphs" fill="#000">at</text>
<text x="172.00" y="9.20" font-size="13.2" textLength="24.06" lengthAdjust="spacingAndGlyphs" fill="#000">100</text>
<text x="200.15" y="9.20" font-size="13.2" textLength="26.01" lengthAdjust="spacingAndGlyphs" fill="#000">GeV</text>
<text x="144.03" y="9.20" font-size="13.2" textLength="6.65" lengthAdjust="spacingAndGlyphs" fill="#000">s</text>
</g>
<g transform="translate(352.60,514.00)">
<line x1="40.40" y1="211.00" x2="43.90" y2="211.00" stroke="#262626" stroke-width="1"/>
<text x="13.63" y="214.60" font-size="11" textLength="23.65" lengthAdjust="spacingAndGlyphs" fill="#000">0.00</text>
<line x1="40.40" y1="184.92" x2="43.90" y2="184.92" stroke="#262626" stroke-width="1"/>
<text x="13.62" y="188.52" font-size="11" textLength="23.79" lengthAdjust="spacingAndGlyphs" fill="#000">0.02</text>
<line x1="40.40" y1="158.84" x2="43.90" y2="158.84" stroke="#262626" stroke-width="1"/>
<text x="13.63" y="162.44" font-size="11" textLength="23.53" lengthAdjust="spacingAndGlyphs" fill="#000">0.04</text>
<line x1="40.40" y1="132.76" x2="43.90" y2="132.76" stroke="#262626" stroke-width="1"/>
<text x="13.62" y="136.36" font-size="11" textLength="23.71" lengthAdjust="spacingAndGlyphs" fill="#000">0.06</text>
<line x1="40.40" y1="106.68" x2="43.90" y2="106.68" stroke="#262626" stroke-width="1"/>
<text x="13.62" y="110.28" font-size="11" textLength="23.71" lengthAdjust="spacingAndGlyphs" fill="#000">0.08</text>
<line x1="40.40" y1="80.60" x2="43.90" y2="80.60" stroke="#262626" stroke-width="1"/>
<text x="13.63" y="84.20" font-size="11" textLength="23.65" lengthAdjust="spacingAndGlyphs" fill="#000">0.10</text>
<line x1="40.40" y1="54.52" x2="43.90" y2="54.52" stroke="#262626" stroke-width="1"/>
<text x="13.62" y="58.12" font-size="11" textLength="23.79" lengthAdjust="spacingAndGlyphs" fill="#000">0.12</text>
<line x1="40.40" y1="28.44" x2="43.90" y2="28.44" stroke="#262626" stroke-width="1"/>
<text x="13.63" y="32.04" font-size="11" textLength="23.53" lengthAdjust="spacingAndGlyphs" fill="#000">0.14</text>
<line x1="49.02" y1="211.00" x2="49.02" y2="213.00" stroke="#262626" stroke-width="0.8"/>
<line x1="53.39" y1="211.00" x2="53.39" y2="213.00" stroke="#262626" stroke-width="0.8"/>
<line x1="57.18" y1="211.00" x2="57.18" y2="213.00" stroke="#262626" stroke-width="0.8"/>
<line x1="60.51" y1="211.00" x2="60.51" y2="213.00" stroke="#262626" stroke-width="0.8"/>
<line x1="63.50" y1="211.00" x2="63.50" y2="214.30" stroke="#262626" stroke-width="1"/>
<line x1="83.10" y1="211.00" x2="83.10" y2="213.00" stroke="#262626" stroke-width="0.8"/>
<line x1="94.56" y1="211.00" x2="94.56" y2="213.00" stroke="#262626" stroke-width="0.8"/>
<line x1="102.69" y1="211.00" x2="102.69" y2="213.00" stroke="#262626" stroke-width="0.8"/>
<line x1="109.00" y1="211.00" x2="109.00" y2="213.00" stroke="#262626" stroke-width="0.8"/>
<line x1="114.16" y1="211.00" x2="114.16" y2="213.00" stroke="#262626" stroke-width="0.8"/>
<line x1="118.52" y1="211.00" x2="118.52" y2="213.00" stroke="#262626" stroke-width="0.8"/>
<line x1="122.29" y1="211.00" x2="122.29" y2="213.00" stroke="#262626" stroke-width="0.8"/>
<line x1="125.62" y1="211.00" x2="125.62" y2="213.00" stroke="#262626" stroke-width="0.8"/>
<line x1="128.60" y1="211.00" x2="128.60" y2="214.30" stroke="#262626" stroke-width="1"/>
<line x1="148.38" y1="211.00" x2="148.38" y2="213.00" stroke="#262626" stroke-width="0.8"/>
<line x1="159.95" y1="211.00" x2="159.95" y2="213.00" stroke="#262626" stroke-width="0.8"/>
<line x1="168.16" y1="211.00" x2="168.16" y2="213.00" stroke="#262626" stroke-width="0.8"/>
<line x1="174.52" y1="211.00" x2="174.52" y2="213.00" stroke="#262626" stroke-width="0.8"/>
<line x1="179.72" y1="211.00" x2="179.72" y2="213.00" stroke="#262626" stroke-width="0.8"/>
<line x1="184.12" y1="211.00" x2="184.12" y2="213.00" stroke="#262626" stroke-width="0.8"/>
<line x1="187.93" y1="211.00" x2="187.93" y2="213.00" stroke="#262626" stroke-width="0.8"/>
<line x1="191.29" y1="211.00" x2="191.29" y2="213.00" stroke="#262626" stroke-width="0.8"/>
<line x1="194.30" y1="211.00" x2="194.30" y2="214.30" stroke="#262626" stroke-width="1"/>
<line x1="213.90" y1="211.00" x2="213.90" y2="213.00" stroke="#262626" stroke-width="0.8"/>
<line x1="225.36" y1="211.00" x2="225.36" y2="213.00" stroke="#262626" stroke-width="0.8"/>
<line x1="233.49" y1="211.00" x2="233.49" y2="213.00" stroke="#262626" stroke-width="0.8"/>
<line x1="239.80" y1="211.00" x2="239.80" y2="213.00" stroke="#262626" stroke-width="0.8"/>
<line x1="244.96" y1="211.00" x2="244.96" y2="213.00" stroke="#262626" stroke-width="0.8"/>
<line x1="249.32" y1="211.00" x2="249.32" y2="213.00" stroke="#262626" stroke-width="0.8"/>
<line x1="253.09" y1="211.00" x2="253.09" y2="213.00" stroke="#262626" stroke-width="0.8"/>
<line x1="256.42" y1="211.00" x2="256.42" y2="213.00" stroke="#262626" stroke-width="0.8"/>
<line x1="259.40" y1="211.00" x2="259.40" y2="214.30" stroke="#262626" stroke-width="1"/>
<line x1="279.00" y1="211.00" x2="279.00" y2="213.00" stroke="#262626" stroke-width="0.8"/>
<line x1="290.46" y1="211.00" x2="290.46" y2="213.00" stroke="#262626" stroke-width="0.8"/>
<line x1="298.59" y1="211.00" x2="298.59" y2="213.00" stroke="#262626" stroke-width="0.8"/>
<line x1="304.90" y1="211.00" x2="304.90" y2="213.00" stroke="#262626" stroke-width="0.8"/>
<line x1="310.06" y1="211.00" x2="310.06" y2="213.00" stroke="#262626" stroke-width="0.8"/>
<line x1="314.42" y1="211.00" x2="314.42" y2="213.00" stroke="#262626" stroke-width="0.8"/>
<line x1="318.19" y1="211.00" x2="318.19" y2="213.00" stroke="#262626" stroke-width="0.8"/>
<line x1="321.52" y1="211.00" x2="321.52" y2="213.00" stroke="#262626" stroke-width="0.8"/>
<line x1="324.50" y1="211.00" x2="324.50" y2="214.30" stroke="#262626" stroke-width="1"/>
<text x="51.10" y="225.60" font-size="11.8" textLength="13.11" lengthAdjust="spacingAndGlyphs" fill="#000">10</text>
<line x1="65.05" y1="219.2" x2="69.50" y2="219.2" stroke="#000" stroke-width="0.8"/>
<text x="71.02" y="221.10" font-size="8.0">4</text>
<text x="116.20" y="225.60" font-size="11.8" textLength="13.11" lengthAdjust="spacingAndGlyphs" fill="#000">10</text>
<line x1="130.15" y1="219.2" x2="134.60" y2="219.2" stroke="#000" stroke-width="0.8"/>
<text x="136.00" y="221.10" font-size="8.0">3</text>
<text x="181.90" y="225.60" font-size="11.8" textLength="13.11" lengthAdjust="spacingAndGlyphs" fill="#000">10</text>
<line x1="195.85" y1="219.2" x2="200.30" y2="219.2" stroke="#000" stroke-width="0.8"/>
<text x="201.60" y="221.10" font-size="8.0">2</text>
<text x="247.00" y="225.60" font-size="11.8" textLength="13.11" lengthAdjust="spacingAndGlyphs" fill="#000">10</text>
<line x1="260.95" y1="219.2" x2="265.40" y2="219.2" stroke="#000" stroke-width="0.8"/>
<text x="266.49" y="221.10" font-size="8.0">1</text>
<text x="315.31" y="225.70" font-size="11.8" textLength="13.05" lengthAdjust="spacingAndGlyphs" fill="#000">10</text>
<text x="329.09" y="221.10" font-size="8.0">0</text>
<line x1="43.90" y1="15.40" x2="43.90" y2="211.00" stroke="#262626" stroke-width="1.1"/>
<line x1="43.30" y1="211.00" x2="326.60" y2="211.00" stroke="#262626" stroke-width="1.1"/>
<text x="182.58" y="239.05" font-size="11" textLength="5.54" lengthAdjust="spacingAndGlyphs" fill="#000">x</text>
<g transform="translate(8.0,169.0) rotate(-90)">
<text x="-0.49" y="0.00" font-size="11" textLength="38.07" lengthAdjust="spacingAndGlyphs" fill="#000">σ(Ratio</text>
<text x="40.91" y="0.00" font-size="11" textLength="10.74" lengthAdjust="spacingAndGlyphs" fill="#000">to</text>
<text x="55.21" y="0.00" font-size="11" textLength="56.17" lengthAdjust="spacingAndGlyphs" fill="#000">NNPDF4.0)</text>
</g>
<text x="155.38" y="9.20" font-size="13.2" textLength="12.12" lengthAdjust="spacingAndGlyphs" fill="#000">at</text>
<text x="172.00" y="9.20" font-size="13.2" textLength="24.06" lengthAdjust="spacingAndGlyphs" fill="#000">100</text>
<text x="200.15" y="9.20" font-size="13.2" textLength="26.01" lengthAdjust="spacingAndGlyphs" fill="#000">GeV</text>
<text x="144.03" y="9.20" font-size="13.2" textLength="6.65" lengthAdjust="spacingAndGlyphs" fill="#000">s</text>
<line x1="146.50" y1="0.10" x2="150.50" y2="0.10" stroke="#000" stroke-width="0.8"/>
</g>
<g transform="translate(0.00,770.70)">
<line x1="40.40" y1="211.00" x2="43.90" y2="211.00" stroke="#262626" stroke-width="1"/>
<text x="13.63" y="214.60" font-size="11" textLength="23.65" lengthAdjust="spacingAndGlyphs" fill="#000">0.00</text>
<line x1="40.40" y1="184.92" x2="43.90" y2="184.92" stroke="#262626" stroke-width="1"/>
<text x="13.62" y="188.52" font-size="11" textLength="23.79" lengthAdjust="spacingAndGlyphs" fill="#000">0.02</text>
<line x1="40.40" y1="158.84" x2="43.90" y2="158.84" stroke="#262626" stroke-width="1"/>
<text x="13.63" y="162.44" font-size="11" textLength="23.53" lengthAdjust="spacingAndGlyphs" fill="#000">0.04</text>
<line x1="40.40" y1="132.76" x2="43.90" y2="132.76" stroke="#262626" stroke-width="1"/>
<text x="13.62" y="136.36" font-size="11" textLength="23.71" lengthAdjust="spacingAndGlyphs" fill="#000">0.06</text>
<line x1="40.40" y1="106.68" x2="43.90" y2="106.68" stroke="#262626" stroke-width="1"/>
<text x="13.62" y="110.28" font-size="11" textLength="23.71" lengthAdjust="spacingAndGlyphs" fill="#000">0.08</text>
<line x1="40.40" y1="80.60" x2="43.90" y2="80.60" stroke="#262626" stroke-width="1"/>
<text x="13.63" y="84.20" font-size="11" textLength="23.65" lengthAdjust="spacingAndGlyphs" fill="#000">0.10</text>
<line x1="40.40" y1="54.52" x2="43.90" y2="54.52" stroke="#262626" stroke-width="1"/>
<text x="13.62" y="58.12" font-size="11" textLength="23.79" lengthAdjust="spacingAndGlyphs" fill="#000">0.12</text>
<line x1="40.40" y1="28.44" x2="43.90" y2="28.44" stroke="#262626" stroke-width="1"/>
<text x="13.63" y="32.04" font-size="11" textLength="23.53" lengthAdjust="spacingAndGlyphs" fill="#000">0.14</text>
<line x1="49.02" y1="211.00" x2="49.02" y2="213.00" stroke="#262626" stroke-width="0.8"/>
<line x1="53.39" y1="211.00" x2="53.39" y2="213.00" stroke="#262626" stroke-width="0.8"/>
<line x1="57.18" y1="211.00" x2="57.18" y2="213.00" stroke="#262626" stroke-width="0.8"/>
<line x1="60.51" y1="211.00" x2="60.51" y2="213.00" stroke="#262626" stroke-width="0.8"/>
<line x1="63.50" y1="211.00" x2="63.50" y2="214.30" stroke="#262626" stroke-width="1"/>
<line x1="83.10" y1="211.00" x2="83.10" y2="213.00" stroke="#262626" stroke-width="0.8"/>
<line x1="94.56" y1="211.00" x2="94.56" y2="213.00" stroke="#262626" stroke-width="0.8"/>
<line x1="102.69" y1="211.00" x2="102.69" y2="213.00" stroke="#262626" stroke-width="0.8"/>
<line x1="109.00" y1="211.00" x2="109.00" y2="213.00" stroke="#262626" stroke-width="0.8"/>
<line x1="114.16" y1="211.00" x2="114.16" y2="213.00" stroke="#262626" stroke-width="0.8"/>
<line x1="118.52" y1="211.00" x2="118.52" y2="213.00" stroke="#262626" stroke-width="0.8"/>
<line x1="122.29" y1="211.00" x2="122.29" y2="213.00" stroke="#262626" stroke-width="0.8"/>
<line x1="125.62" y1="211.00" x2="125.62" y2="213.00" stroke="#262626" stroke-width="0.8"/>
<line x1="128.60" y1="211.00" x2="128.60" y2="214.30" stroke="#262626" stroke-width="1"/>
<line x1="148.38" y1="211.00" x2="148.38" y2="213.00" stroke="#262626" stroke-width="0.8"/>
<line x1="159.95" y1="211.00" x2="159.95" y2="213.00" stroke="#262626" stroke-width="0.8"/>
<line x1="168.16" y1="211.00" x2="168.16" y2="213.00" stroke="#262626" stroke-width="0.8"/>
<line x1="174.52" y1="211.00" x2="174.52" y2="213.00" stroke="#262626" stroke-width="0.8"/>
<line x1="179.72" y1="211.00" x2="179.72" y2="213.00" stroke="#262626" stroke-width="0.8"/>
<line x1="184.12" y1="211.00" x2="184.12" y2="213.00" stroke="#262626" stroke-width="0.8"/>
<line x1="187.93" y1="211.00" x2="187.93" y2="213.00" stroke="#262626" stroke-width="0.8"/>
<line x1="191.29" y1="211.00" x2="191.29" y2="213.00" stroke="#262626" stroke-width="0.8"/>
<line x1="194.30" y1="211.00" x2="194.30" y2="214.30" stroke="#262626" stroke-width="1"/>
<line x1="213.90" y1="211.00" x2="213.90" y2="213.00" stroke="#262626" stroke-width="0.8"/>
<line x1="225.36" y1="211.00" x2="225.36" y2="213.00" stroke="#262626" stroke-width="0.8"/>
<line x1="233.49" y1="211.00" x2="233.49" y2="213.00" stroke="#262626" stroke-width="0.8"/>
<line x1="239.80" y1="211.00" x2="239.80" y2="213.00" stroke="#262626" stroke-width="0.8"/>
<line x1="244.96" y1="211.00" x2="244.96" y2="213.00" stroke="#262626" stroke-width="0.8"/>
<line x1="249.32" y1="211.00" x2="249.32" y2="213.00" stroke="#262626" stroke-width="0.8"/>
<line x1="253.09" y1="211.00" x2="253.09" y2="213.00" stroke="#262626" stroke-width="0.8"/>
<line x1="256.42" y1="211.00" x2="256.42" y2="213.00" stroke="#262626" stroke-width="0.8"/>
<line x1="259.40" y1="211.00" x2="259.40" y2="214.30" stroke="#262626" stroke-width="1"/>
<line x1="279.00" y1="211.00" x2="279.00" y2="213.00" stroke="#262626" stroke-width="0.8"/>
<line x1="290.46" y1="211.00" x2="290.46" y2="213.00" stroke="#262626" stroke-width="0.8"/>
<line x1="298.59" y1="211.00" x2="298.59" y2="213.00" stroke="#262626" stroke-width="0.8"/>
<line x1="304.90" y1="211.00" x2="304.90" y2="213.00" stroke="#262626" stroke-width="0.8"/>
<line x1="310.06" y1="211.00" x2="310.06" y2="213.00" stroke="#262626" stroke-width="0.8"/>
<line x1="314.42" y1="211.00" x2="314.42" y2="213.00" stroke="#262626" stroke-width="0.8"/>
<line x1="318.19" y1="211.00" x2="318.19" y2="213.00" stroke="#262626" stroke-width="0.8"/>
<line x1="321.52" y1="211.00" x2="321.52" y2="213.00" stroke="#262626" stroke-width="0.8"/>
<line x1="324.50" y1="211.00" x2="324.50" y2="214.30" stroke="#262626" stroke-width="1"/>
<text x="51.10" y="225.60" font-size="11.8" textLength="13.11" lengthAdjust="spacingAndGlyphs" fill="#000">10</text>
<line x1="65.05" y1="219.2" x2="69.50" y2="219.2" stroke="#000" stroke-width="0.8"/>
<text x="71.02" y="221.10" font-size="8.0">4</text>
<text x="116.20" y="225.60" font-size="11.8" textLength="13.11" lengthAdjust="spacingAndGlyphs" fill="#000">10</text>
<line x1="130.15" y1="219.2" x2="134.60" y2="219.2" stroke="#000" stroke-width="0.8"/>
<text x="136.00" y="221.10" font-size="8.0">3</text>
<text x="181.90" y="225.60" font-size="11.8" textLength="13.11" lengthAdjust="spacingAndGlyphs" fill="#000">10</text>
<line x1="195.85" y1="219.2" x2="200.30" y2="219.2" stroke="#000" stroke-width="0.8"/>
<text x="201.60" y="221.10" font-size="8.0">2</text>
<text x="247.00" y="225.60" font-size="11.8" textLength="13.11" lengthAdjust="spacingAndGlyphs" fill="#000">10</text>
<line x1="260.95" y1="219.2" x2="265.40" y2="219.2" stroke="#000" stroke-width="0.8"/>
<text x="266.49" y="221.10" font-size="8.0">1</text>
<text x="315.31" y="225.70" font-size="11.8" textLength="13.05" lengthAdjust="spacingAndGlyphs" fill="#000">10</text>
<text x="329.09" y="221.10" font-size="8.0">0</text>
<line x1="43.90" y1="15.40" x2="43.90" y2="211.00" stroke="#262626" stroke-width="1.1"/>
<line x1="43.30" y1="211.00" x2="326.60" y2="211.00" stroke="#262626" stroke-width="1.1"/>
<text x="182.58" y="239.05" font-size="11" textLength="5.54" lengthAdjust="spacingAndGlyphs" fill="#000">x</text>
<g transform="translate(8.0,169.0) rotate(-90)">
<text x="-0.49" y="0.00" font-size="11" textLength="38.07" lengthAdjust="spacingAndGlyphs" fill="#000">σ(Ratio</text>
<text x="40.91" y="0.00" font-size="11" textLength="10.74" lengthAdjust="spacingAndGlyphs" fill="#000">to</text>
<text x="55.21" y="0.00" font-size="11" textLength="56.17" lengthAdjust="spacingAndGlyphs" fill="#000">NNPDF4.0)</text>
</g>
<text x="155.38" y="9.20" font-size="13.2" textLength="12.12" lengthAdjust="spacingAndGlyphs" fill="#000">at</text>
<text x="172.00" y="9.20" font-size="13.2" textLength="24.06" lengthAdjust="spacingAndGlyphs" fill="#000">100</text>
<text x="200.15" y="9.20" font-size="13.2" textLength="26.01" lengthAdjust="spacingAndGlyphs" fill="#000">GeV</text>
<text x="144.07" y="9.20" font-size="13.2" textLength="6.26" lengthAdjust="spacingAndGlyphs" fill="#000">c</text>
</g>
<g transform="translate(352.60,770.70)">
<line x1="40.40" y1="211.00" x2="43.90" y2="211.00" stroke="#262626" stroke-width="1"/>
<text x="13.63" y="214.60" font-size="11" textLength="23.65" lengthAdjust="spacingAndGlyphs" fill="#000">0.00</text>
<line x1="40.40" y1="184.92" x2="43.90" y2="184.92" stroke="#262626" stroke-width="1"/>
<text x="13.62" y="188.52" font-size="11" textLength="23.79" lengthAdjust="spacingAndGlyphs" fill="#000">0.02</text>
<line x1="40.40" y1="158.84" x2="43.90" y2="158.84" stroke="#262626" stroke-width="1"/>
<text x="13.63" y="162.44" font-size="11" textLength="23.53" lengthAdjust="spacingAndGlyphs" fill="#000">0.04</text>
<line x1="40.40" y1="132.76" x2="43.90" y2="132.76" stroke="#262626" stroke-width="1"/>
<text x="13.62" y="136.36" font-size="11" textLength="23.71" lengthAdjust="spacingAndGlyphs" fill="#000">0.06</text>
<line x1="40.40" y1="106.68" x2="43.90" y2="106.68" stroke="#262626" stroke-width="1"/>
<text x="13.62" y="110.28" font-size="11" textLength="23.71" lengthAdjust="spacingAndGlyphs" fill="#000">0.08</text>
<line x1="40.40" y1="80.60" x2="43.90" y2="80.60" stroke="#262626" stroke-width="1"/>
<text x="13.63" y="84.20" font-size="11" textLength="23.65" lengthAdjust="spacingAndGlyphs" fill="#000">0.10</text>
<line x1="40.40" y1="54.52" x2="43.90" y2="54.52" stroke="#262626" stroke-width="1"/>
<text x="13.62" y="58.12" font-size="11" textLength="23.79" lengthAdjust="spacingAndGlyphs" fill="#000">0.12</text>
<line x1="40.40" y1="28.44" x2="43.90" y2="28.44" stroke="#262626" stroke-width="1"/>
<text x="13.63" y="32.04" font-size="11" textLength="23.53" lengthAdjust="spacingAndGlyphs" fill="#000">0.14</text>
<line x1="49.02" y1="211.00" x2="49.02" y2="213.00" stroke="#262626" stroke-width="0.8"/>
<line x1="53.39" y1="211.00" x2="53.39" y2="213.00" stroke="#262626" stroke-width="0.8"/>
<line x1="57.18" y1="211.00" x2="57.18" y2="213.00" stroke="#262626" stroke-width="0.8"/>
<line x1="60.51" y1="211.00" x2="60.51" y2="213.00" stroke="#262626" stroke-width="0.8"/>
<line x1="63.50" y1="211.00" x2="63.50" y2="214.30" stroke="#262626" stroke-width="1"/>
<line x1="83.10" y1="211.00" x2="83.10" y2="213.00" stroke="#262626" stroke-width="0.8"/>
<line x1="94.56" y1="211.00" x2="94.56" y2="213.00" stroke="#262626" stroke-width="0.8"/>
<line x1="102.69" y1="211.00" x2="102.69" y2="213.00" stroke="#262626" stroke-width="0.8"/>
<line x1="109.00" y1="211.00" x2="109.00" y2="213.00" stroke="#262626" stroke-width="0.8"/>
<line x1="114.16" y1="211.00" x2="114.16" y2="213.00" stroke="#262626" stroke-width="0.8"/>
<line x1="118.52" y1="211.00" x2="118.52" y2="213.00" stroke="#262626" stroke-width="0.8"/>
<line x1="122.29" y1="211.00" x2="122.29" y2="213.00" stroke="#262626" stroke-width="0.8"/>
<line x1="125.62" y1="211.00" x2="125.62" y2="213.00" stroke="#262626" stroke-width="0.8"/>
<line x1="128.60" y1="211.00" x2="128.60" y2="214.30" stroke="#262626" stroke-width="1"/>
<line x1="148.38" y1="211.00" x2="148.38" y2="213.00" stroke="#262626" stroke-width="0.8"/>
<line x1="159.95" y1="211.00" x2="159.95" y2="213.00" stroke="#262626" stroke-width="0.8"/>
<line x1="168.16" y1="211.00" x2="168.16" y2="213.00" stroke="#262626" stroke-width="0.8"/>
<line x1="174.52" y1="211.00" x2="174.52" y2="213.00" stroke="#262626" stroke-width="0.8"/>
<line x1="179.72" y1="211.00" x2="179.72" y2="213.00" stroke="#262626" stroke-width="0.8"/>
<line x1="184.12" y1="211.00" x2="184.12" y2="213.00" stroke="#262626" stroke-width="0.8"/>
<line x1="187.93" y1="211.00" x2="187.93" y2="213.00" stroke="#262626" stroke-width="0.8"/>
<line x1="191.29" y1="211.00" x2="191.29" y2="213.00" stroke="#262626" stroke-width="0.8"/>
<line x1="194.30" y1="211.00" x2="194.30" y2="214.30" stroke="#262626" stroke-width="1"/>
<line x1="213.90" y1="211.00" x2="213.90" y2="213.00" stroke="#262626" stroke-width="0.8"/>
<line x1="225.36" y1="211.00" x2="225.36" y2="213.00" stroke="#262626" stroke-width="0.8"/>
<line x1="233.49" y1="211.00" x2="233.49" y2="213.00" stroke="#262626" stroke-width="0.8"/>
<line x1="239.80" y1="211.00" x2="239.80" y2="213.00" stroke="#262626" stroke-width="0.8"/>
<line x1="244.96" y1="211.00" x2="244.96" y2="213.00" stroke="#262626" stroke-width="0.8"/>
<line x1="249.32" y1="211.00" x2="249.32" y2="213.00" stroke="#262626" stroke-width="0.8"/>
<line x1="253.09" y1="211.00" x2="253.09" y2="213.00" stroke="#262626" stroke-width="0.8"/>
<line x1="256.42" y1="211.00" x2="256.42" y2="213.00" stroke="#262626" stroke-width="0.8"/>
<line x1="259.40" y1="211.00" x2="259.40" y2="214.30" stroke="#262626" stroke-width="1"/>
<line x1="279.00" y1="211.00" x2="279.00" y2="213.00" stroke="#262626" stroke-width="0.8"/>
<line x1="290.46" y1="211.00" x2="290.46" y2="213.00" stroke="#262626" stroke-width="0.8"/>
<line x1="298.59" y1="211.00" x2="298.59" y2="213.00" stroke="#262626" stroke-width="0.8"/>
<line x1="304.90" y1="211.00" x2="304.90" y2="213.00" stroke="#262626" stroke-width="0.8"/>
<line x1="310.06" y1="211.00" x2="310.06" y2="213.00" stroke="#262626" stroke-width="0.8"/>
<line x1="314.42" y1="211.00" x2="314.42" y2="213.00" stroke="#262626" stroke-width="0.8"/>
<line x1="318.19" y1="211.00" x2="318.19" y2="213.00" stroke="#262626" stroke-width="0.8"/>
<line x1="321.52" y1="211.00" x2="321.52" y2="213.00" stroke="#262626" stroke-width="0.8"/>
<line x1="324.50" y1="211.00" x2="324.50" y2="214.30" stroke="#262626" stroke-width="1"/>
<text x="51.10" y="225.60" font-size="11.8" textLength="13.11" lengthAdjust="spacingAndGlyphs" fill="#000">10</text>
<line x1="65.05" y1="219.2" x2="69.50" y2="219.2" stroke="#000" stroke-width="0.8"/>
<text x="71.02" y="221.10" font-size="8.0">4</text>
<text x="116.20" y="225.60" font-size="11.8" textLength="13.11" lengthAdjust="spacingAndGlyphs" fill="#000">10</text>
<line x1="130.15" y1="219.2" x2="134.60" y2="219.2" stroke="#000" stroke-width="0.8"/>
<text x="136.00" y="221.10" font-size="8.0">3</text>
<text x="181.90" y="225.60" font-size="11.8" textLength="13.11" lengthAdjust="spacingAndGlyphs" fill="#000">10</text>
<line x1="195.85" y1="219.2" x2="200.30" y2="219.2" stroke="#000" stroke-width="0.8"/>
<text x="201.60" y="221.10" font-size="8.0">2</text>
<text x="247.00" y="225.60" font-size="11.8" textLength="13.11" lengthAdjust="spacingAndGlyphs" fill="#000">10</text>
<line x1="260.95" y1="219.2" x2="265.40" y2="219.2" stroke="#000" stroke-width="0.8"/>
<text x="266.49" y="221.10" font-size="8.0">1</text>
<text x="315.31" y="225.70" font-size="11.8" textLength="13.05" lengthAdjust="spacingAndGlyphs" fill="#000">10</text>
<text x="329.09" y="221.10" font-size="8.0">0</text>
<line x1="43.90" y1="15.40" x2="43.90" y2="211.00" stroke="#262626" stroke-width="1.1"/>
<line x1="43.30" y1="211.00" x2="326.60" y2="211.00" stroke="#262626" stroke-width="1.1"/>
<text x="182.58" y="239.05" font-size="11" textLength="5.54" lengthAdjust="spacingAndGlyphs" fill="#000">x</text>
<g transform="translate(8.0,169.0) rotate(-90)">
<text x="-0.49" y="0.00" font-size="11" textLength="38.07" lengthAdjust="spacingAndGlyphs" fill="#000">σ(Ratio</text>
<text x="40.91" y="0.00" font-size="11" textLength="10.74" lengthAdjust="spacingAndGlyphs" fill="#000">to</text>
<text x="55.21" y="0.00" font-size="11" textLength="56.17" lengthAdjust="spacingAndGlyphs" fill="#000">NNPDF4.0)</text>
</g>
<text x="155.38" y="9.20" font-size="13.2" textLength="12.12" lengthAdjust="spacingAndGlyphs" fill="#000">at</text>
<text x="172.00" y="9.20" font-size="13.2" textLength="24.06" lengthAdjust="spacingAndGlyphs" fill="#000">100</text>
<text x="200.15" y="9.20" font-size="13.2" textLength="26.01" lengthAdjust="spacingAndGlyphs" fill="#000">GeV</text>
<text x="143.42" y="9.20" font-size="13.2" textLength="7.67" lengthAdjust="spacingAndGlyphs" fill="#000">g</text>
</g>
<g transform="translate(0.00,0.00)">
<rect x="49.2" y="20.5" width="199.3" height="33.9" rx="2.5" ry="2.5" fill="#fff" fill-opacity="0.8" stroke="#cccccc" stroke-opacity="0.8" stroke-width="0.9"/>
<line x1="52.6" y1="29.2" x2="75.0" y2="29.2" stroke="#66c2a5" stroke-width="1.6"/>
<line x1="52.6" y1="44.2" x2="75.0" y2="44.2" stroke="#fc8d62" stroke-width="1.6"/>
<text x="82.80" y="32.70" font-size="10.8" textLength="53.03" lengthAdjust="spacingAndGlyphs" fill="#000">NNPDF4.0</text>
<text x="82.81" y="47.85" font-size="10.8" textLength="52.62" lengthAdjust="spacingAndGlyphs" fill="#000">NNPDF3.1</text>
<text x="139.42" y="47.85" font-size="10.8" textLength="57.02" lengthAdjust="spacingAndGlyphs" fill="#000">(NNPDF4.0</text>
<text x="200.30" y="47.85" font-size="10.8" textLength="43.35" lengthAdjust="spacingAndGlyphs" fill="#000">dataset)</text>
</g>
<g transform="translate(352.60,0.00)">
<rect x="49.2" y="20.5" width="199.3" height="33.9" rx="2.5" ry="2.5" fill="#fff" fill-opacity="0.8" stroke="#cccccc" stroke-opacity="0.8" stroke-width="0.9"/>
<line x1="52.6" y1="29.2" x2="75.0" y2="29.2" stroke="#66c2a5" stroke-width="1.6"/>
<line x1="52.6" y1="44.2" x2="75.0" y2="44.2" stroke="#fc8d62" stroke-width="1.6"/>
<text x="82.80" y="32.70" font-size="10.8" textLength="53.03" lengthAdjust="spacingAndGlyphs" fill="#000">NNPDF4.0</text>
<text x="82.81" y="47.85" font-size="10.8" textLength="52.62" lengthAdjust="spacingAndGlyphs" fill="#000">NNPDF3.1</text>
<text x="139.42" y="47.85" font-size="10.8" textLength="57.02" lengthAdjust="spacingAndGlyphs" fill="#000">(NNPDF4.0</text>
<text x="200.30" y="47.85" font-size="10.8" textLength="43.35" lengthAdjust="spacingAndGlyphs" fill="#000">dataset)</text>
</g>
<g transform="translate(0.00,257.70)">
<rect x="49.2" y="20.5" width="199.3" height="33.9" rx="2.5" ry="2.5" fill="#fff" fill-opacity="0.8" stroke="#cccccc" stroke-opacity="0.8" stroke-width="0.9"/>
<line x1="52.6" y1="29.2" x2="75.0" y2="29.2" stroke="#66c2a5" stroke-width="1.6"/>
<line x1="52.6" y1="44.2" x2="75.0" y2="44.2" stroke="#fc8d62" stroke-width="1.6"/>
<text x="82.80" y="32.70" font-size="10.8" textLength="53.03" lengthAdjust="spacingAndGlyphs" fill="#000">NNPDF4.0</text>
<text x="82.81" y="47.85" font-size="10.8" textLength="52.62" lengthAdjust="spacingAndGlyphs" fill="#000">NNPDF3.1</text>
<text x="139.42" y="47.85" font-size="10.8" textLength="57.02" lengthAdjust="spacingAndGlyphs" fill="#000">(NNPDF4.0</text>
<text x="200.30" y="47.85" font-size="10.8" textLength="43.35" lengthAdjust="spacingAndGlyphs" fill="#000">dataset)</text>
</g>
<g transform="translate(352.60,257.70)">
<rect x="49.2" y="20.5" width="199.3" height="33.9" rx="2.5" ry="2.5" fill="#fff" fill-opacity="0.8" stroke="#cccccc" stroke-opacity="0.8" stroke-width="0.9"/>
<line x1="52.6" y1="29.2" x2="75.0" y2="29.2" stroke="#66c2a5" stroke-width="1.6"/>
<line x1="52.6" y1="44.2" x2="75.0" y2="44.2" stroke="#fc8d62" stroke-width="1.6"/>
<text x="82.80" y="32.70" font-size="10.8" textLength="53.03" lengthAdjust="spacingAndGlyphs" fill="#000">NNPDF4.0</text>
<text x="82.81" y="47.85" font-size="10.8" textLength="52.62" lengthAdjust="spacingAndGlyphs" fill="#000">NNPDF3.1</text>
<text x="139.42" y="47.85" font-size="10.8" textLength="57.02" lengthAdjust="spacingAndGlyphs" fill="#000">(NNPDF4.0</text>
<text x="200.30" y="47.85" font-size="10.8" textLength="43.35" lengthAdjust="spacingAndGlyphs" fill="#000">dataset)</text>
</g>
<g transform="translate(0.00,514.00)">
<rect x="49.2" y="20.5" width="199.3" height="33.9" rx="2.5" ry="2.5" fill="#fff" fill-opacity="0.8" stroke="#cccccc" stroke-opacity="0.8" stroke-width="0.9"/>
<line x1="52.6" y1="29.2" x2="75.0" y2="29.2" stroke="#66c2a5" stroke-width="1.6"/>
<line x1="52.6" y1="44.2" x2="75.0" y2="44.2" stroke="#fc8d62" stroke-width="1.6"/>
<text x="82.80" y="32.70" font-size="10.8" textLength="53.03" lengthAdjust="spacingAndGlyphs" fill="#000">NNPDF4.0</text>
<text x="82.81" y="47.85" font-size="10.8" textLength="52.62" lengthAdjust="spacingAndGlyphs" fill="#000">NNPDF3.1</text>
<text x="139.42" y="47.85" font-size="10.8" textLength="57.02" lengthAdjust="spacingAndGlyphs" fill="#000">(NNPDF4.0</text>
<text x="200.30" y="47.85" font-size="10.8" textLength="43.35" lengthAdjust="spacingAndGlyphs" fill="#000">dataset)</text>
</g>
<g transform="translate(352.60,514.00)">
<rect x="49.2" y="20.5" width="199.3" height="33.9" rx="2.5" ry="2.5" fill="#fff" fill-opacity="0.8" stroke="#cccccc" stroke-opacity="0.8" stroke-width="0.9"/>
<line x1="52.6" y1="29.2" x2="75.0" y2="29.2" stroke="#66c2a5" stroke-width="1.6"/>
<line x1="52.6" y1="44.2" x2="75.0" y2="44.2" stroke="#fc8d62" stroke-width="1.6"/>
<text x="82.80" y="32.70" font-size="10.8" textLength="53.03" lengthAdjust="spacingAndGlyphs" fill="#000">NNPDF4.0</text>
<text x="82.81" y="47.85" font-size="10.8" textLength="52.62" lengthAdjust="spacingAndGlyphs" fill="#000">NNPDF3.1</text>
<text x="139.42" y="47.85" font-size="10.8" textLength="57.02" lengthAdjust="spacingAndGlyphs" fill="#000">(NNPDF4.0</text>
<text x="200.30" y="47.85" font-size="10.8" textLength="43.35" lengthAdjust="spacingAndGlyphs" fill="#000">dataset)</text>
</g>
<g transform="translate(0.00,770.70)">
<rect x="49.2" y="20.5" width="199.3" height="33.9" rx="2.5" ry="2.5" fill="#fff" fill-opacity="0.8" stroke="#cccccc" stroke-opacity="0.8" stroke-width="0.9"/>
<line x1="52.6" y1="29.2" x2="75.0" y2="29.2" stroke="#66c2a5" stroke-width="1.6"/>
<line x1="52.6" y1="44.2" x2="75.0" y2="44.2" stroke="#fc8d62" stroke-width="1.6"/>
<text x="82.80" y="32.70" font-size="10.8" textLength="53.03" lengthAdjust="spacingAndGlyphs" fill="#000">NNPDF4.0</text>
<text x="82.81" y="47.85" font-size="10.8" textLength="52.62" lengthAdjust="spacingAndGlyphs" fill="#000">NNPDF3.1</text>
<text x="139.42" y="47.85" font-size="10.8" textLength="57.02" lengthAdjust="spacingAndGlyphs" fill="#000">(NNPDF4.0</text>
<text x="200.30" y="47.85" font-size="10.8" textLength="43.35" lengthAdjust="spacingAndGlyphs" fill="#000">dataset)</text>
</g>
<g transform="translate(352.60,770.70)">
<rect x="49.2" y="20.5" width="199.3" height="33.9" rx="2.5" ry="2.5" fill="#fff" fill-opacity="0.8" stroke="#cccccc" stroke-opacity="0.8" stroke-width="0.9"/>
<line x1="52.6" y1="29.2" x2="75.0" y2="29.2" stroke="#66c2a5" stroke-width="1.6"/>
<line x1="52.6" y1="44.2" x2="75.0" y2="44.2" stroke="#fc8d62" stroke-width="1.6"/>
<text x="82.80" y="32.70" font-size="10.8" textLength="53.03" lengthAdjust="spacingAndGlyphs" fill="#000">NNPDF4.0</text>
<text x="82.81" y="47.85" font-size="10.8" textLength="52.62" lengthAdjust="spacingAndGlyphs" fill="#000">NNPDF3.1</text>
<text x="139.42" y="47.85" font-size="10.8" textLength="57.02" lengthAdjust="spacingAndGlyphs" fill="#000">(NNPDF4.0</text>
<text x="200.30" y="47.85" font-size="10.8" textLength="43.35" lengthAdjust="spacingAndGlyphs" fill="#000">dataset)</text>
</g>
</svg></body></html>
